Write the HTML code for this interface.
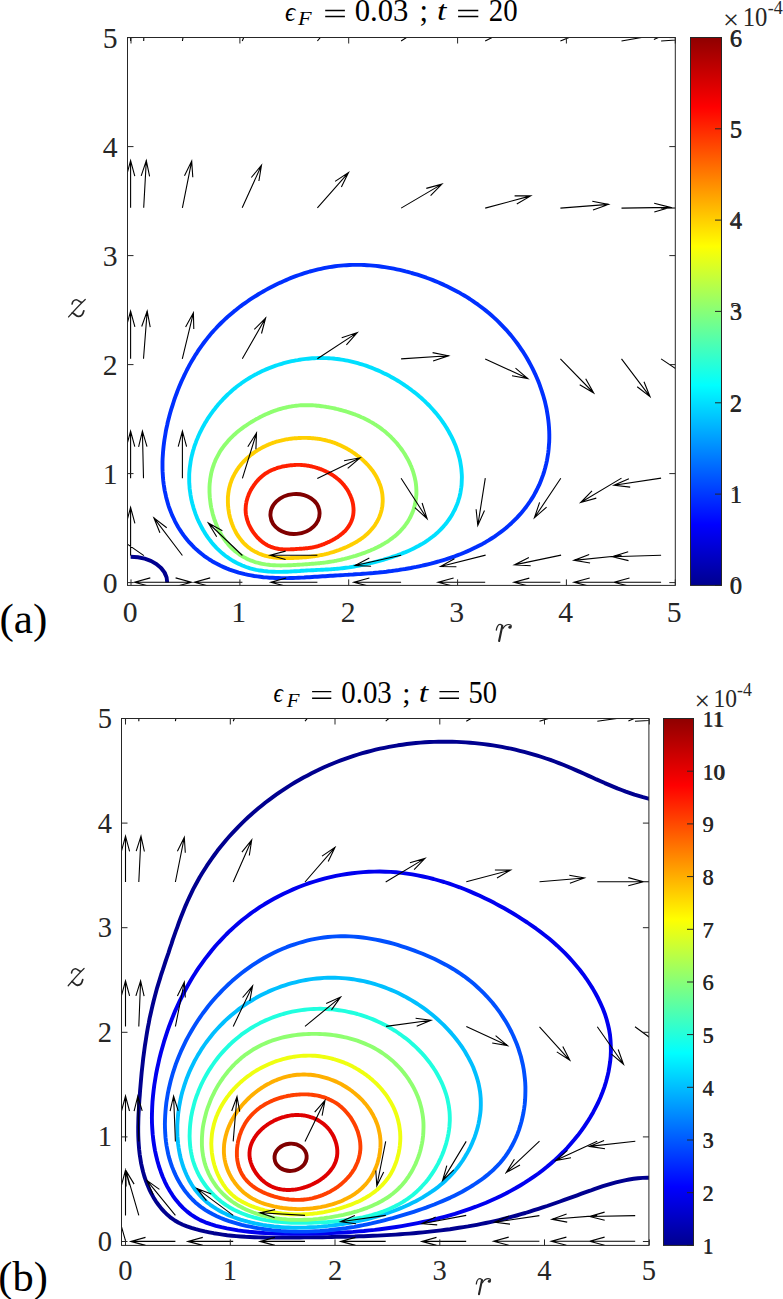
<!DOCTYPE html><html><head><meta charset="utf-8"><style>html,body{margin:0;padding:0;background:#fff;}svg{display:block;}text{font-family:"Liberation Serif",serif;fill:#262626;}</style></head><body>
<svg width="783" height="1299" viewBox="0 0 783 1299">
<defs></defs>
<clipPath id="ca"><rect x="127.5" y="37.5" width="547.8" height="547.9"/></clipPath>
<g clip-path="url(#ca)">
<path d="M130.6,556.7C150.8,556.7 167.2,567.9 167.2,582.5" fill="none" stroke="rgb(0,0,143)" stroke-width="3.9" stroke-linejoin="round" stroke-linecap="butt"/>
<path d="M165.9,430.9 166.5,428.0 167.2,425.0 167.8,422.0 168.6,419.1 169.3,416.2 170.1,413.3 170.9,410.4 171.8,407.6 172.7,404.8 173.6,402.0 174.5,399.2 175.5,396.4 176.5,393.7 177.5,391.0 178.6,388.3 179.7,385.6 180.8,382.9 182.0,380.3 183.2,377.7 184.4,375.1 185.7,372.5 186.9,370.0 188.3,367.4 189.6,364.9 191.0,362.4 192.4,360.0 193.9,357.6 195.3,355.1 196.9,352.8 198.4,350.4 200.0,348.1 201.6,345.8 203.3,343.5 205.0,341.3 206.7,339.1 208.4,336.9 210.2,334.7 212.0,332.6 213.9,330.5 215.8,328.5 217.7,326.4 219.6,324.5 221.6,322.5 223.6,320.6 225.6,318.7 227.7,316.8 229.8,315.0 231.9,313.2 234.0,311.4 236.2,309.7 238.3,308.0 240.5,306.3 242.7,304.7 245.0,303.1 247.3,301.5 249.5,299.9 251.8,298.4 254.2,296.9 256.5,295.5 258.8,294.0 261.2,292.6 263.6,291.2 266.0,289.9 268.5,288.6 270.9,287.3 273.4,286.0 275.8,284.7 278.3,283.5 280.9,282.4 283.4,281.2 286.0,280.1 288.5,279.0 291.1,277.9 293.7,276.9 296.4,275.9 299.0,275.0 301.7,274.1 304.4,273.2 307.1,272.3 309.8,271.5 312.5,270.8 315.3,270.1 318.1,269.4 320.9,268.8 323.7,268.2 326.5,267.6 329.3,267.1 332.2,266.7 335.0,266.3 337.9,265.9 340.8,265.6 343.7,265.4 346.6,265.2 349.5,265.0 352.4,264.9 355.4,264.9 358.3,264.9 361.2,264.9 364.2,265.0 367.1,265.2 370.1,265.4 373.0,265.6 376.0,265.9 379.0,266.3 381.9,266.7 384.9,267.1 387.8,267.6 390.8,268.1 393.8,268.7 396.7,269.3 399.7,269.9 402.7,270.6 405.6,271.4 408.6,272.1 411.6,273.0 414.5,273.8 417.5,274.7 420.4,275.7 423.4,276.7 426.4,277.7 429.3,278.8 432.3,279.9 435.2,281.1 438.1,282.3 441.1,283.6 444.0,284.9 446.9,286.3 449.8,287.7 452.7,289.2 455.6,290.7 458.5,292.2 461.3,293.9 464.2,295.5 467.0,297.2 469.8,299.0 472.6,300.9 475.4,302.8 478.1,304.7 480.8,306.7 483.5,308.8 486.2,310.9 488.8,313.0 491.4,315.3 494.0,317.6 496.5,319.9 499.0,322.3 501.4,324.8 503.8,327.3 506.2,329.8 508.5,332.5 510.8,335.1 513.0,337.9 515.1,340.6 517.3,343.5 519.3,346.3 521.3,349.3 523.3,352.2 525.2,355.3 527.0,358.3 528.8,361.5 530.5,364.6 532.2,367.8 533.8,371.1 535.3,374.3 536.8,377.7 538.2,381.0 539.5,384.4 540.7,387.8 541.9,391.3 543.0,394.8 544.0,398.3 545.0,401.8 545.8,405.4 546.6,409.0 547.2,412.6 547.8,416.3 548.3,419.9 548.7,423.6 549.0,427.3 549.2,430.9 549.3,434.6 549.3,438.3 549.2,442.0 548.9,445.7 548.6,449.4 548.2,453.0 547.6,456.7 547.0,460.3 546.2,463.9 545.3,467.5 544.3,471.1 543.2,474.6 541.9,478.1 540.6,481.5 539.2,484.9 537.6,488.2 535.9,491.5 534.2,494.7 532.3,497.9 530.3,501.0 528.2,504.0 526.1,507.0 523.8,509.9 521.5,512.7 519.1,515.4 516.6,518.1 514.0,520.7 511.4,523.2 508.7,525.6 506.0,528.0 503.2,530.2 500.3,532.4 497.4,534.5 494.5,536.6 491.5,538.5 488.5,540.4 485.5,542.2 482.5,543.9 479.4,545.5 476.3,547.1 473.2,548.6 470.2,550.0 467.1,551.4 464.0,552.7 460.9,554.0 457.8,555.1 454.8,556.3 451.7,557.4 448.7,558.4 445.7,559.4 442.6,560.3 439.7,561.2 436.7,562.0 433.7,562.8 430.8,563.6 427.9,564.3 425.0,565.0 422.1,565.7 419.2,566.3 416.4,566.9 413.6,567.4 410.8,568.0 408.0,568.5 405.2,569.0 402.5,569.4 399.7,569.8 397.0,570.3 394.3,570.6 391.7,571.0 389.0,571.3 386.3,571.7 383.7,572.0 381.1,572.2 378.5,572.5 375.9,572.7 373.3,573.0 370.7,573.2 368.2,573.4 365.6,573.6 363.1,573.8 360.6,574.0 358.0,574.1 355.5,574.3 353.0,574.5 350.5,574.6 348.0,574.8 345.4,574.9 342.9,575.1 340.4,575.2 337.9,575.4 335.4,575.5 332.8,575.7 330.3,575.8 327.8,576.0 325.2,576.2 322.6,576.3 320.0,576.5 317.4,576.7 314.8,576.8 312.1,577.0 309.5,577.2 306.8,577.3 304.1,577.5 301.3,577.6 298.6,577.7 295.8,577.9 293.0,578.0 290.1,578.0 287.2,578.1 284.3,578.1 281.4,578.1 278.5,578.0 275.5,578.0 272.5,577.8 269.5,577.7 266.5,577.4 263.4,577.2 260.3,576.8 257.3,576.4 254.2,576.0 251.1,575.4 248.0,574.8 244.9,574.2 241.8,573.4 238.7,572.6 235.7,571.6 232.6,570.6 229.6,569.6 226.6,568.4 223.6,567.1 220.7,565.8 217.8,564.3 214.9,562.8 212.1,561.2 209.4,559.5 206.7,557.7 204.0,555.8 201.5,553.8 199.0,551.7 196.5,549.6 194.1,547.4 191.9,545.0 189.6,542.7 187.5,540.2 185.5,537.7 183.5,535.1 181.6,532.4 179.8,529.7 178.1,527.0 176.5,524.1 175.0,521.3 173.6,518.3 172.2,515.4 171.0,512.4 169.8,509.3 168.7,506.3 167.8,503.2 166.9,500.0 166.1,496.9 165.4,493.7 164.7,490.6 164.2,487.4 163.7,484.2 163.3,481.0 163.0,477.8 162.8,474.6 162.6,471.4 162.5,468.2 162.5,465.0 162.5,461.9 162.6,458.7 162.8,455.6 163.0,452.4 163.3,449.3 163.6,446.2 164.0,443.1 164.4,440.0 164.9,437.0 165.4,434.0Z" fill="none" stroke="rgb(0,48,255)" stroke-width="3.9" stroke-linejoin="round"/>
<path d="M189.2,477.2 189.2,474.9 189.3,472.7 189.5,470.5 189.7,468.3 190.0,466.1 190.3,463.9 190.6,461.7 191.0,459.5 191.4,457.4 191.9,455.2 192.5,453.1 193.0,450.9 193.7,448.8 194.3,446.7 195.0,444.7 195.8,442.6 196.5,440.5 197.4,438.5 198.2,436.5 199.1,434.5 200.0,432.5 201.0,430.6 202.0,428.6 203.0,426.7 204.1,424.8 205.1,422.9 206.3,421.1 207.4,419.2 208.6,417.4 209.8,415.6 211.0,413.9 212.3,412.1 213.5,410.4 214.9,408.7 216.2,407.0 217.5,405.4 218.9,403.8 220.3,402.2 221.8,400.6 223.2,399.0 224.7,397.5 226.2,396.0 227.7,394.5 229.3,393.1 230.8,391.7 232.4,390.3 234.0,388.9 235.7,387.6 237.3,386.3 239.0,385.0 240.7,383.8 242.4,382.5 244.1,381.3 245.9,380.2 247.6,379.1 249.4,378.0 251.2,376.9 253.0,375.9 254.8,374.8 256.7,373.9 258.5,372.9 260.4,372.0 262.3,371.1 264.2,370.2 266.1,369.4 268.0,368.6 269.9,367.8 271.8,367.1 273.8,366.4 275.7,365.7 277.7,365.0 279.7,364.4 281.7,363.8 283.6,363.2 285.6,362.7 287.6,362.2 289.7,361.7 291.7,361.2 293.7,360.8 295.7,360.4 297.8,360.1 299.8,359.7 301.8,359.4 303.9,359.1 306.0,358.9 308.0,358.7 310.1,358.5 312.2,358.3 314.2,358.2 316.3,358.1 318.4,358.0 320.5,358.0 322.5,358.0 324.6,358.1 326.7,358.1 328.8,358.2 330.9,358.4 333.0,358.5 335.1,358.8 337.1,359.0 339.2,359.3 341.3,359.6 343.4,359.9 345.4,360.3 347.5,360.7 349.6,361.1 351.6,361.6 353.7,362.1 355.7,362.6 357.8,363.2 359.8,363.8 361.9,364.4 363.9,365.0 365.9,365.7 367.9,366.4 369.9,367.2 371.9,367.9 373.9,368.7 375.9,369.6 377.9,370.4 379.9,371.3 381.9,372.2 383.8,373.2 385.8,374.1 387.7,375.1 389.7,376.1 391.6,377.2 393.6,378.3 395.5,379.4 397.4,380.5 399.3,381.7 401.2,382.9 403.1,384.1 404.9,385.4 406.8,386.6 408.7,388.0 410.5,389.3 412.3,390.7 414.2,392.1 416.0,393.5 417.8,395.0 419.5,396.5 421.3,398.0 423.0,399.6 424.7,401.2 426.4,402.9 428.1,404.5 429.8,406.2 431.4,408.0 433.0,409.8 434.6,411.6 436.2,413.4 437.7,415.3 439.2,417.2 440.7,419.2 442.1,421.1 443.5,423.2 444.9,425.2 446.2,427.3 447.5,429.4 448.7,431.5 449.9,433.7 451.1,435.9 452.2,438.2 453.3,440.4 454.3,442.7 455.3,445.1 456.2,447.4 457.0,449.8 457.8,452.2 458.5,454.6 459.2,457.1 459.8,459.5 460.3,462.0 460.7,464.5 461.1,467.0 461.4,469.5 461.6,472.1 461.8,474.6 461.9,477.2 461.8,479.7 461.7,482.2 461.6,484.8 461.3,487.3 460.9,489.8 460.5,492.3 460.0,494.8 459.4,497.3 458.6,499.7 457.9,502.1 457.0,504.5 456.0,506.8 455.0,509.2 453.8,511.4 452.6,513.7 451.3,515.9 450.0,518.0 448.5,520.1 447.0,522.2 445.4,524.2 443.8,526.1 442.1,528.0 440.3,529.8 438.5,531.6 436.7,533.3 434.8,534.9 432.8,536.5 430.8,538.0 428.8,539.5 426.8,540.9 424.7,542.3 422.6,543.6 420.5,544.8 418.4,546.0 416.3,547.1 414.1,548.2 412.0,549.3 409.9,550.2 407.7,551.2 405.6,552.1 403.5,552.9 401.4,553.8 399.3,554.5 397.2,555.3 395.2,556.0 393.1,556.7 391.1,557.4 389.1,558.0 387.1,558.6 385.2,559.2 383.2,559.8 381.3,560.3 379.4,560.8 377.5,561.3 375.6,561.8 373.7,562.3 371.9,562.8 370.1,563.2 368.3,563.6 366.5,564.1 364.7,564.5 362.9,564.8 361.2,565.2 359.4,565.6 357.7,565.9 356.0,566.2 354.2,566.5 352.5,566.8 350.8,567.1 349.1,567.4 347.4,567.6 345.8,567.8 344.1,568.0 342.4,568.2 340.8,568.4 339.1,568.6 337.5,568.7 335.8,568.9 334.2,569.0 332.5,569.1 330.9,569.3 329.3,569.4 327.6,569.5 326.0,569.5 324.4,569.6 322.8,569.7 321.2,569.8 319.5,569.9 317.9,569.9 316.3,570.0 314.7,570.1 313.1,570.2 311.4,570.3 309.8,570.4 308.1,570.4 306.5,570.5 304.8,570.6 303.2,570.7 301.5,570.8 299.8,571.0 298.0,571.1 296.3,571.2 294.6,571.3 292.8,571.4 291.0,571.5 289.2,571.6 287.4,571.7 285.6,571.8 283.7,571.8 281.8,571.9 279.9,571.9 278.0,571.9 276.1,571.9 274.2,571.8 272.2,571.8 270.2,571.6 268.2,571.5 266.2,571.3 264.2,571.1 262.2,570.8 260.2,570.5 258.2,570.2 256.2,569.8 254.1,569.3 252.1,568.8 250.1,568.3 248.1,567.6 246.1,567.0 244.2,566.2 242.2,565.5 240.3,564.6 238.3,563.7 236.4,562.8 234.6,561.8 232.7,560.7 230.9,559.6 229.1,558.4 227.4,557.2 225.6,556.0 224.0,554.6 222.3,553.3 220.7,551.9 219.1,550.4 217.5,548.9 216.0,547.4 214.6,545.8 213.1,544.2 211.7,542.5 210.4,540.8 209.1,539.1 207.8,537.3 206.5,535.5 205.3,533.7 204.2,531.8 203.1,530.0 202.0,528.0 201.0,526.1 200.0,524.2 199.0,522.2 198.1,520.2 197.2,518.2 196.4,516.1 195.6,514.1 194.9,512.0 194.2,509.9 193.5,507.8 192.9,505.6 192.3,503.5 191.8,501.4 191.3,499.2 190.9,497.0 190.5,494.8 190.2,492.6 189.9,490.4 189.6,488.2 189.5,486.0 189.3,483.8 189.2,481.6 189.2,479.4Z" fill="none" stroke="rgb(0,223,255)" stroke-width="3.9" stroke-linejoin="round"/>
<path d="M209.5,490.5 209.5,488.8 209.5,487.1 209.6,485.3 209.7,483.6 209.9,481.9 210.1,480.2 210.3,478.5 210.6,476.8 210.9,475.1 211.2,473.4 211.6,471.7 212.0,470.1 212.5,468.4 213.0,466.8 213.6,465.2 214.1,463.5 214.8,462.0 215.4,460.4 216.1,458.8 216.9,457.3 217.7,455.8 218.5,454.3 219.3,452.8 220.2,451.3 221.1,449.9 222.1,448.5 223.1,447.1 224.1,445.8 225.1,444.5 226.2,443.2 227.3,441.9 228.4,440.6 229.5,439.4 230.7,438.2 231.8,437.1 233.0,435.9 234.2,434.8 235.4,433.7 236.7,432.6 237.9,431.6 239.2,430.5 240.5,429.5 241.7,428.6 243.0,427.6 244.3,426.7 245.6,425.8 247.0,424.9 248.3,424.0 249.6,423.1 250.9,422.3 252.3,421.5 253.6,420.7 255.0,419.9 256.3,419.1 257.7,418.4 259.0,417.7 260.4,416.9 261.8,416.3 263.1,415.6 264.5,414.9 265.9,414.3 267.3,413.7 268.7,413.1 270.1,412.5 271.5,411.9 272.9,411.4 274.3,410.8 275.8,410.3 277.2,409.9 278.6,409.4 280.1,409.0 281.5,408.6 283.0,408.2 284.4,407.8 285.9,407.5 287.4,407.1 288.8,406.8 290.3,406.6 291.8,406.3 293.3,406.1 294.8,405.9 296.2,405.7 297.7,405.6 299.2,405.4 300.7,405.3 302.2,405.3 303.7,405.2 305.2,405.2 306.7,405.2 308.2,405.2 309.6,405.2 311.1,405.3 312.6,405.3 314.1,405.4 315.6,405.5 317.1,405.7 318.6,405.8 320.0,406.0 321.5,406.2 323.0,406.4 324.5,406.6 325.9,406.8 327.4,407.1 328.9,407.3 330.4,407.6 331.8,407.9 333.3,408.2 334.8,408.5 336.3,408.9 337.7,409.2 339.2,409.6 340.7,410.0 342.2,410.4 343.7,410.8 345.1,411.2 346.6,411.7 348.1,412.1 349.6,412.6 351.1,413.1 352.5,413.6 354.0,414.2 355.5,414.7 357.0,415.3 358.5,415.9 360.0,416.5 361.4,417.2 362.9,417.8 364.4,418.5 365.9,419.3 367.3,420.0 368.8,420.8 370.2,421.6 371.7,422.4 373.1,423.2 374.5,424.1 376.0,425.0 377.4,426.0 378.8,426.9 380.2,427.9 381.5,428.9 382.9,430.0 384.3,431.0 385.6,432.1 386.9,433.3 388.2,434.4 389.5,435.6 390.8,436.8 392.0,438.1 393.3,439.4 394.5,440.7 395.7,442.0 396.9,443.3 398.0,444.7 399.1,446.1 400.3,447.6 401.3,449.0 402.4,450.5 403.4,452.0 404.4,453.5 405.4,455.1 406.3,456.7 407.2,458.3 408.1,459.9 409.0,461.6 409.8,463.3 410.5,465.0 411.3,466.7 411.9,468.4 412.6,470.2 413.2,472.0 413.7,473.8 414.2,475.6 414.7,477.4 415.1,479.3 415.5,481.1 415.8,483.0 416.0,484.8 416.2,486.7 416.3,488.6 416.4,490.5 416.4,492.4 416.4,494.3 416.2,496.2 416.1,498.0 415.8,499.9 415.5,501.8 415.2,503.6 414.7,505.5 414.2,507.3 413.7,509.1 413.1,510.9 412.4,512.7 411.6,514.4 410.8,516.1 410.0,517.8 409.1,519.4 408.1,521.1 407.1,522.6 406.0,524.2 404.9,525.7 403.7,527.2 402.5,528.6 401.2,530.0 400.0,531.4 398.6,532.7 397.3,534.0 395.9,535.2 394.5,536.4 393.0,537.5 391.6,538.7 390.1,539.7 388.6,540.8 387.1,541.8 385.6,542.7 384.1,543.6 382.5,544.5 381.0,545.4 379.4,546.2 377.9,547.0 376.4,547.7 374.8,548.5 373.3,549.2 371.8,549.8 370.3,550.5 368.7,551.1 367.2,551.7 365.7,552.3 364.3,552.8 362.8,553.3 361.3,553.9 359.9,554.4 358.4,554.8 357.0,555.3 355.6,555.8 354.2,556.2 352.8,556.6 351.4,557.0 350.0,557.4 348.6,557.8 347.2,558.2 345.9,558.5 344.5,558.9 343.2,559.2 341.8,559.5 340.5,559.8 339.2,560.1 337.8,560.4 336.5,560.7 335.2,560.9 333.9,561.2 332.6,561.4 331.3,561.6 330.0,561.8 328.7,562.0 327.4,562.2 326.1,562.4 324.8,562.6 323.5,562.7 322.2,562.9 320.9,563.0 319.7,563.2 318.4,563.3 317.1,563.4 315.8,563.5 314.6,563.6 313.3,563.7 312.0,563.8 310.7,563.9 309.4,564.0 308.2,564.1 306.9,564.2 305.6,564.3 304.3,564.4 303.0,564.5 301.7,564.6 300.4,564.6 299.0,564.7 297.7,564.8 296.4,564.9 295.0,565.0 293.7,565.0 292.3,565.1 290.9,565.2 289.5,565.2 288.1,565.3 286.7,565.4 285.3,565.4 283.8,565.4 282.4,565.4 280.9,565.5 279.4,565.4 277.9,565.4 276.4,565.4 274.8,565.3 273.3,565.2 271.8,565.1 270.2,565.0 268.6,564.8 267.1,564.6 265.5,564.4 263.9,564.1 262.3,563.8 260.8,563.5 259.2,563.1 257.6,562.7 256.0,562.3 254.4,561.8 252.9,561.2 251.3,560.7 249.8,560.1 248.3,559.4 246.8,558.7 245.3,557.9 243.8,557.1 242.4,556.3 240.9,555.4 239.5,554.5 238.2,553.5 236.8,552.5 235.5,551.5 234.2,550.4 233.0,549.3 231.7,548.1 230.5,546.9 229.4,545.7 228.3,544.4 227.2,543.1 226.1,541.8 225.1,540.4 224.1,539.0 223.2,537.6 222.2,536.2 221.3,534.7 220.5,533.3 219.7,531.8 218.9,530.2 218.1,528.7 217.4,527.2 216.7,525.6 216.1,524.0 215.5,522.4 214.9,520.8 214.3,519.2 213.8,517.6 213.3,515.9 212.8,514.3 212.4,512.6 212.0,510.9 211.6,509.3 211.2,507.6 210.9,505.9 210.6,504.2 210.4,502.5 210.2,500.8 210.0,499.1 209.8,497.4 209.7,495.7 209.6,493.9 209.5,492.2Z" fill="none" stroke="rgb(143,255,112)" stroke-width="3.9" stroke-linejoin="round"/>
<path d="M227.9,497.5 228.0,496.1 228.2,494.8 228.3,493.4 228.5,492.1 228.7,490.8 228.9,489.5 229.2,488.2 229.5,486.9 229.9,485.6 230.2,484.3 230.6,483.0 231.1,481.7 231.5,480.5 232.0,479.3 232.5,478.1 233.1,476.8 233.7,475.7 234.3,474.5 234.9,473.3 235.6,472.2 236.2,471.1 236.9,470.0 237.7,468.9 238.4,467.8 239.2,466.8 240.0,465.8 240.8,464.8 241.6,463.8 242.5,462.8 243.3,461.9 244.2,461.0 245.1,460.1 246.0,459.2 246.9,458.3 247.9,457.5 248.8,456.7 249.8,455.9 250.7,455.1 251.7,454.3 252.7,453.6 253.7,452.9 254.7,452.2 255.7,451.5 256.7,450.8 257.7,450.2 258.7,449.6 259.7,449.0 260.8,448.4 261.8,447.8 262.8,447.3 263.9,446.7 264.9,446.2 266.0,445.7 267.0,445.2 268.1,444.8 269.1,444.3 270.2,443.9 271.2,443.5 272.3,443.1 273.4,442.7 274.4,442.4 275.5,442.0 276.5,441.7 277.6,441.4 278.7,441.1 279.7,440.8 280.8,440.6 281.9,440.3 282.9,440.1 284.0,439.9 285.0,439.6 286.1,439.4 287.2,439.3 288.2,439.1 289.3,438.9 290.3,438.8 291.4,438.7 292.4,438.5 293.5,438.4 294.5,438.3 295.6,438.2 296.6,438.2 297.7,438.1 298.7,438.0 299.7,438.0 300.8,438.0 301.8,437.9 302.9,437.9 303.9,437.9 304.9,437.9 306.0,437.9 307.0,437.9 308.1,438.0 309.1,438.0 310.1,438.0 311.2,438.1 312.2,438.2 313.3,438.3 314.3,438.4 315.3,438.5 316.4,438.6 317.4,438.7 318.5,438.9 319.5,439.0 320.6,439.2 321.6,439.4 322.6,439.6 323.7,439.8 324.7,440.0 325.8,440.3 326.8,440.5 327.8,440.8 328.9,441.1 329.9,441.4 330.9,441.7 332.0,442.0 333.0,442.4 334.0,442.7 335.1,443.1 336.1,443.5 337.1,443.9 338.1,444.4 339.1,444.8 340.2,445.2 341.2,445.7 342.2,446.2 343.2,446.7 344.2,447.2 345.2,447.7 346.2,448.3 347.2,448.8 348.2,449.4 349.2,450.0 350.2,450.6 351.2,451.2 352.2,451.9 353.1,452.5 354.1,453.2 355.1,453.9 356.1,454.6 357.0,455.3 358.0,456.0 359.0,456.8 359.9,457.5 360.8,458.3 361.8,459.1 362.7,459.9 363.6,460.8 364.5,461.6 365.4,462.5 366.3,463.4 367.2,464.3 368.1,465.3 368.9,466.2 369.8,467.2 370.6,468.2 371.4,469.2 372.2,470.3 373.0,471.3 373.7,472.4 374.4,473.5 375.2,474.6 375.8,475.8 376.5,476.9 377.1,478.1 377.7,479.3 378.3,480.5 378.8,481.7 379.3,483.0 379.8,484.2 380.3,485.5 380.7,486.8 381.1,488.1 381.4,489.4 381.7,490.7 382.0,492.1 382.2,493.4 382.4,494.7 382.5,496.1 382.6,497.5 382.7,498.8 382.7,500.2 382.7,501.5 382.6,502.9 382.5,504.2 382.4,505.6 382.2,506.9 381.9,508.3 381.7,509.6 381.4,510.9 381.0,512.2 380.6,513.5 380.2,514.8 379.7,516.1 379.2,517.3 378.6,518.6 378.0,519.8 377.4,521.0 376.7,522.2 376.0,523.3 375.3,524.5 374.6,525.6 373.8,526.7 372.9,527.7 372.1,528.8 371.2,529.8 370.3,530.8 369.4,531.7 368.5,532.7 367.5,533.6 366.6,534.5 365.6,535.3 364.6,536.2 363.6,537.0 362.5,537.8 361.5,538.5 360.4,539.3 359.4,540.0 358.3,540.7 357.3,541.3 356.2,542.0 355.1,542.6 354.0,543.2 353.0,543.8 351.9,544.4 350.8,544.9 349.7,545.5 348.6,546.0 347.6,546.5 346.5,547.0 345.4,547.4 344.4,547.9 343.3,548.3 342.2,548.8 341.2,549.2 340.1,549.6 339.1,550.0 338.0,550.4 337.0,550.7 335.9,551.1 334.9,551.4 333.8,551.8 332.8,552.1 331.8,552.4 330.7,552.7 329.7,553.0 328.7,553.3 327.6,553.6 326.6,553.9 325.6,554.1 324.5,554.4 323.5,554.6 322.5,554.8 321.5,555.0 320.4,555.2 319.4,555.4 318.4,555.6 317.3,555.8 316.3,555.9 315.3,556.1 314.3,556.2 313.2,556.4 312.2,556.5 311.2,556.6 310.1,556.8 309.1,556.9 308.1,557.0 307.0,557.1 306.0,557.2 304.9,557.2 303.9,557.3 302.9,557.4 301.8,557.5 300.7,557.6 299.7,557.6 298.6,557.7 297.5,557.7 296.5,557.8 295.4,557.9 294.3,557.9 293.2,558.0 292.1,558.0 291.0,558.0 289.8,558.1 288.7,558.1 287.6,558.1 286.4,558.1 285.2,558.1 284.1,558.1 282.9,558.1 281.7,558.0 280.5,558.0 279.3,557.9 278.1,557.9 276.8,557.8 275.6,557.6 274.4,557.5 273.1,557.3 271.9,557.1 270.6,556.9 269.3,556.7 268.1,556.4 266.8,556.1 265.6,555.8 264.3,555.5 263.1,555.1 261.8,554.6 260.6,554.2 259.4,553.7 258.2,553.2 257.0,552.6 255.8,552.0 254.6,551.4 253.5,550.8 252.3,550.1 251.2,549.3 250.1,548.6 249.1,547.8 248.0,547.0 247.0,546.1 246.0,545.2 245.0,544.3 244.0,543.3 243.1,542.4 242.2,541.4 241.4,540.3 240.5,539.3 239.7,538.2 238.9,537.1 238.1,536.0 237.4,534.9 236.7,533.7 236.0,532.6 235.4,531.4 234.8,530.2 234.2,529.0 233.6,527.7 233.1,526.5 232.6,525.2 232.1,524.0 231.6,522.7 231.2,521.4 230.8,520.1 230.4,518.8 230.0,517.5 229.7,516.2 229.4,514.9 229.1,513.6 228.9,512.2 228.7,510.9 228.5,509.6 228.3,508.2 228.2,506.9 228.0,505.5 228.0,504.2 227.9,502.8 227.9,501.5 227.9,500.1 227.9,498.8Z" fill="none" stroke="rgb(255,207,0)" stroke-width="3.9" stroke-linejoin="round"/>
<path d="M245.7,508.3 245.7,507.4 245.8,506.5 245.8,505.5 246.0,504.6 246.1,503.7 246.3,502.8 246.4,501.9 246.6,501.0 246.9,500.1 247.1,499.2 247.4,498.3 247.6,497.4 247.9,496.6 248.3,495.7 248.6,494.8 248.9,494.0 249.3,493.2 249.7,492.3 250.1,491.5 250.5,490.7 250.9,489.9 251.4,489.1 251.8,488.4 252.3,487.6 252.8,486.8 253.3,486.1 253.8,485.3 254.3,484.6 254.8,483.9 255.4,483.2 255.9,482.5 256.5,481.8 257.0,481.2 257.6,480.5 258.2,479.9 258.8,479.2 259.4,478.6 260.1,478.0 260.7,477.4 261.4,476.9 262.0,476.3 262.7,475.7 263.4,475.2 264.0,474.7 264.7,474.2 265.4,473.7 266.1,473.2 266.9,472.8 267.6,472.3 268.3,471.9 269.0,471.5 269.8,471.1 270.5,470.7 271.3,470.4 272.0,470.0 272.8,469.7 273.6,469.4 274.3,469.1 275.1,468.8 275.9,468.5 276.6,468.2 277.4,468.0 278.2,467.7 279.0,467.5 279.7,467.3 280.5,467.1 281.3,466.9 282.0,466.7 282.8,466.5 283.6,466.4 284.4,466.2 285.1,466.1 285.9,466.0 286.7,465.8 287.4,465.7 288.2,465.6 289.0,465.5 289.7,465.4 290.5,465.3 291.3,465.2 292.0,465.2 292.8,465.1 293.5,465.1 294.3,465.0 295.1,465.0 295.8,464.9 296.6,464.9 297.3,464.9 298.1,464.9 298.9,464.9 299.6,464.9 300.4,464.9 301.1,465.0 301.9,465.0 302.6,465.1 303.4,465.1 304.1,465.2 304.9,465.3 305.7,465.4 306.4,465.5 307.2,465.6 307.9,465.7 308.7,465.8 309.4,466.0 310.2,466.1 310.9,466.3 311.7,466.4 312.4,466.6 313.2,466.8 313.9,467.0 314.6,467.2 315.4,467.4 316.1,467.6 316.9,467.8 317.6,468.1 318.4,468.3 319.1,468.6 319.8,468.9 320.6,469.1 321.3,469.4 322.1,469.7 322.8,470.0 323.5,470.3 324.3,470.6 325.0,471.0 325.7,471.3 326.5,471.7 327.2,472.0 327.9,472.4 328.7,472.8 329.4,473.2 330.1,473.6 330.8,474.0 331.6,474.5 332.3,474.9 333.0,475.4 333.7,475.8 334.4,476.3 335.1,476.8 335.8,477.3 336.5,477.9 337.1,478.4 337.8,479.0 338.5,479.5 339.1,480.1 339.8,480.7 340.4,481.3 341.1,481.9 341.7,482.6 342.3,483.2 342.9,483.9 343.5,484.6 344.1,485.3 344.6,486.0 345.2,486.7 345.7,487.5 346.2,488.2 346.8,489.0 347.3,489.7 347.7,490.5 348.2,491.3 348.7,492.1 349.1,493.0 349.5,493.8 349.9,494.6 350.3,495.5 350.7,496.4 351.0,497.2 351.4,498.1 351.7,499.0 352.0,499.9 352.2,500.8 352.5,501.7 352.7,502.7 352.9,503.6 353.1,504.5 353.2,505.5 353.3,506.4 353.4,507.4 353.5,508.3 353.5,509.3 353.6,510.2 353.5,511.2 353.5,512.1 353.4,513.1 353.3,514.0 353.2,515.0 353.0,515.9 352.8,516.9 352.6,517.8 352.3,518.7 352.0,519.6 351.7,520.5 351.3,521.4 350.9,522.3 350.5,523.1 350.1,524.0 349.6,524.8 349.1,525.6 348.6,526.4 348.1,527.2 347.5,528.0 346.9,528.7 346.3,529.5 345.7,530.2 345.1,530.9 344.4,531.5 343.7,532.2 343.1,532.8 342.4,533.4 341.6,534.0 340.9,534.6 340.2,535.2 339.5,535.7 338.7,536.2 338.0,536.8 337.3,537.3 336.5,537.7 335.8,538.2 335.0,538.7 334.3,539.1 333.5,539.5 332.8,539.9 332.0,540.3 331.3,540.7 330.5,541.1 329.8,541.5 329.0,541.8 328.3,542.2 327.5,542.5 326.8,542.8 326.1,543.2 325.3,543.5 324.6,543.8 323.9,544.1 323.2,544.4 322.4,544.6 321.7,544.9 321.0,545.1 320.3,545.4 319.5,545.6 318.8,545.9 318.1,546.1 317.4,546.3 316.6,546.5 315.9,546.7 315.2,546.8 314.5,547.0 313.8,547.2 313.0,547.3 312.3,547.5 311.6,547.6 310.9,547.7 310.2,547.8 309.5,547.9 308.8,548.0 308.0,548.1 307.3,548.2 306.6,548.3 305.9,548.3 305.2,548.4 304.5,548.5 303.8,548.5 303.1,548.6 302.4,548.6 301.7,548.7 301.0,548.7 300.3,548.8 299.6,548.8 298.9,548.9 298.1,548.9 297.4,548.9 296.7,549.0 296.0,549.0 295.3,549.1 294.6,549.1 293.8,549.2 293.1,549.2 292.4,549.2 291.6,549.3 290.9,549.3 290.1,549.4 289.4,549.4 288.6,549.4 287.8,549.4 287.1,549.4 286.3,549.4 285.5,549.4 284.7,549.4 283.9,549.4 283.1,549.4 282.3,549.3 281.5,549.3 280.7,549.2 279.8,549.1 279.0,549.0 278.2,548.8 277.4,548.7 276.6,548.5 275.7,548.4 274.9,548.2 274.1,547.9 273.3,547.7 272.5,547.4 271.7,547.1 270.9,546.8 270.1,546.5 269.3,546.1 268.5,545.8 267.7,545.4 267.0,545.0 266.2,544.5 265.5,544.1 264.8,543.6 264.0,543.1 263.3,542.6 262.6,542.1 261.9,541.6 261.2,541.0 260.6,540.4 259.9,539.9 259.3,539.2 258.6,538.6 258.0,538.0 257.4,537.4 256.8,536.7 256.2,536.0 255.6,535.3 255.1,534.6 254.5,533.9 254.0,533.2 253.4,532.5 252.9,531.7 252.4,531.0 251.9,530.2 251.4,529.4 251.0,528.6 250.5,527.8 250.1,527.0 249.7,526.2 249.3,525.4 248.9,524.5 248.5,523.7 248.2,522.8 247.9,522.0 247.6,521.1 247.3,520.2 247.0,519.3 246.8,518.4 246.6,517.5 246.4,516.6 246.2,515.7 246.0,514.8 245.9,513.9 245.8,513.0 245.7,512.0 245.7,511.1 245.6,510.2 245.6,509.2Z" fill="none" stroke="rgb(255,32,0)" stroke-width="3.9" stroke-linejoin="round"/>
<ellipse cx="295" cy="514" rx="24.6" ry="20" transform="rotate(-5 295 514)" fill="none" stroke="rgb(128,0,0)" stroke-width="3.9"/>
<path d="M130.6,207.8L130.6,160.6M134.8,176.2L130.6,160.6L126.4,176.2M143.7,207.8L146.3,160.6M149.6,176.4L146.3,160.6L141.2,175.9M182.4,207.8L191.7,161.1M192.8,177.3L191.7,161.1L184.5,175.7M242.2,207.8L261.5,165.2M258.9,181.0L261.5,165.2L251.3,177.5M317.4,207.8L348.5,172.6M341.4,187.0L348.5,172.6L335.1,181.4M401.1,208.1L441.9,184.1M430.6,195.7L441.9,184.1L426.3,188.4M485.2,208.1L530.7,195.9M516.8,204.0L530.7,195.9L514.6,195.9M560.4,208.1L608.5,204.4M593.0,209.9L608.5,204.4L592.3,201.3M621.5,208.1L670.4,207.4M654.3,212.0L670.4,207.4L654.2,203.3M661.1,208.1L710.0,208.0M693.9,212.4L710.0,208.0L693.9,203.7M130.6,358.8L130.6,311.1M134.9,326.8L130.6,311.1L126.3,326.8M143.5,358.8L147.2,311.1M150.2,327.2L147.2,311.1L141.7,326.5M182.3,358.8L193.4,312.8M193.8,329.0L193.4,312.8L185.6,327.0M242.3,358.8L265.6,318.0M261.5,333.5L265.6,318.0L254.3,329.4M317.4,358.8L357.2,332.6M346.4,344.8L357.2,332.6L341.7,337.7M401.1,358.9L448.5,355.8M433.1,361.0L448.5,355.8L432.6,352.6M485.2,358.9L527.8,378.5M512.0,375.8L527.8,378.5L515.5,368.2M560.4,358.9L593.7,393.0M579.7,384.7L593.7,393.0L585.7,378.8M621.5,358.9L650.0,396.7M637.2,386.8L650.0,396.7L644.0,381.7M661.1,358.9L700.0,385.0M684.8,379.9L700.0,385.0L689.5,372.9M130.6,478.3L130.6,431.1M134.8,446.7L130.6,431.1L126.4,446.7M143.5,478.3L142.4,431.1M147.0,446.6L142.4,431.1L138.6,446.8M182.4,478.3L182.4,431.1M186.6,446.7L182.4,431.1L178.2,446.7M242.4,478.3L256.5,433.0M255.9,449.2L256.5,433.0L247.8,446.7M317.3,478.4L360.0,457.8M347.7,468.4L360.0,457.8L344.1,460.8M401.1,478.2L427.1,518.7M414.9,507.7L427.1,518.7L422.1,503.0M485.3,478.2L477.8,525.5M476.1,509.2L477.8,525.5L484.5,510.6M560.8,478.2L534.4,517.8M539.6,502.4L534.4,517.8L546.6,507.1M621.5,478.1L580.7,502.5M592.0,490.8L580.7,502.5L596.3,498.1M661.1,478.1L614.0,485.2M628.9,478.7L614.0,485.2L630.2,487.1M130.6,555.5L130.6,507.4M134.9,523.3L130.6,507.4L126.3,523.3M143.9,555.6L105.0,528.5M120.3,534.0L105.0,528.5L115.4,540.9M182.4,555.5L153.9,517.8M166.7,527.7L153.9,517.8L159.9,532.8M242.4,555.5L208.3,523.0M222.4,530.7L208.3,523.0L216.7,536.8M317.4,555.3L270.0,555.3M285.6,551.1L270.0,555.3L285.6,559.5M401.1,555.3L355.0,565.5M369.3,558.0L355.0,565.5L371.1,566.2M485.6,555.1L440.5,566.5M454.4,558.7L440.5,566.5L456.4,566.8M561.1,555.1L514.4,564.9M528.9,557.5L514.4,564.9L530.7,565.8M621.5,555.5L574.0,560.4M589.2,554.6L574.0,560.4L590.1,563.0M661.1,555.2L612.2,556.7M628.2,551.8L612.2,556.7L628.5,560.6M143.5,582.2L191.4,582.2M175.6,586.5L191.4,582.2L175.6,577.9M182.4,582.2L134.5,582.2M150.3,577.9L134.5,582.2L150.3,586.5M242.4,582.2L194.4,582.2M210.2,577.9L194.4,582.2L210.2,586.5M317.4,582.2L270.8,582.2M286.2,578.0L270.8,582.2L286.2,586.4M401.1,582.2L353.8,582.2M369.4,578.0L353.8,582.2L369.4,586.4M485.2,582.2L438.1,582.2M453.6,578.0L438.1,582.2L453.6,586.4M560.4,582.2L514.0,582.2M529.3,578.1L514.0,582.2L529.3,586.3M621.5,582.2L574.0,582.2M589.7,578.0L574.0,582.2L589.7,586.4M661.1,582.2L614.0,582.2M629.5,578.0L614.0,582.2L629.5,586.4M130.6,41.0L130.6,-7.0M134.9,8.8L130.6,-7.0L126.3,8.8M143.7,41.0L145.4,-7.0M149.1,9.0L145.4,-7.0L140.5,8.7M182.4,41.0L190.7,-6.3M192.2,10.1L190.7,-6.3L183.8,8.6M242.2,41.0L261.7,-2.9M259.2,13.4L261.7,-2.9L251.4,9.9M317.4,41.0L348.3,4.2M341.3,19.1L348.3,4.2L334.8,13.6M401.1,41.0L441.4,14.9M430.4,27.1L441.4,14.9L425.7,19.9M485.2,41.0L528.0,19.2M515.8,30.2L528.0,19.2L511.9,22.6M560.4,41.0L604.9,23.0M591.8,32.9L604.9,23.0L588.6,25.0M621.5,41.0L668.8,32.7M653.9,39.6L668.8,32.7L652.4,31.2M661.1,41.0L709.0,37.7M693.5,43.0L709.0,37.7L692.9,34.5" fill="none" stroke="#000" stroke-width="1.1" stroke-linejoin="miter"/>
</g>
<path d="M131.0,585.4V579.4M131.0,37.5V43.5M239.9,585.4V579.4M239.9,37.5V43.5M348.7,585.4V579.4M348.7,37.5V43.5M457.6,585.4V579.4M457.6,37.5V43.5M566.4,585.4V579.4M566.4,37.5V43.5M675.3,585.4V579.4M675.3,37.5V43.5M127.5,582.6H133.5M675.3,582.6H669.3M127.5,473.6H133.5M675.3,473.6H669.3M127.5,364.6H133.5M675.3,364.6H669.3M127.5,255.6H133.5M675.3,255.6H669.3M127.5,146.6H133.5M675.3,146.6H669.3M127.5,37.6H133.5M675.3,37.6H669.3" stroke="#262626" stroke-width="1" fill="none"/>
<rect x="127.5" y="37.5" width="547.8" height="547.9" fill="none" stroke="#262626" stroke-width="1"/>
<clipPath id="cb"><rect x="121.5" y="718.5" width="527.4" height="526.9"/></clipPath>
<g clip-path="url(#cb)">
<path d="M651.9,799.3 647.5,798.3 643.0,797.2 638.7,795.9 634.4,794.6 630.1,793.1 625.8,791.6 621.6,790.0 617.3,788.4 613.1,786.6 609.0,784.9 604.8,783.1 600.7,781.2 596.5,779.4 592.4,777.5 588.2,775.6 584.1,773.8 579.9,771.9 575.8,770.1 571.6,768.3 567.4,766.5 563.2,764.8 558.9,763.1 554.7,761.5 550.4,759.9 546.1,758.5 541.7,757.0 537.4,755.7 533.0,754.3 528.6,753.1 524.2,751.9 519.8,750.8 515.3,749.7 510.9,748.7 506.4,747.8 501.9,746.9 497.5,746.1 493.0,745.4 488.5,744.7 483.9,744.1 479.4,743.6 474.9,743.1 470.3,742.7 465.8,742.4 461.3,742.1 456.7,741.9 452.2,741.7 447.6,741.7 443.1,741.7 438.5,741.7 434.0,741.9 429.5,742.0 424.9,742.3 420.4,742.6 415.9,743.0 411.4,743.5 406.8,744.0 402.3,744.7 397.9,745.3 393.4,746.1 388.9,746.9 384.4,747.8 380.0,748.7 375.6,749.7 371.2,750.8 366.8,752.0 362.4,753.2 358.0,754.5 353.7,755.9 349.4,757.3 345.1,758.8 340.8,760.4 336.6,762.0 332.3,763.7 328.1,765.5 324.0,767.3 319.8,769.3 315.7,771.2 311.6,773.3 307.6,775.4 303.5,777.5 299.6,779.7 295.6,782.0 291.7,784.4 287.8,786.8 284.0,789.3 280.2,791.8 276.5,794.4 272.8,797.1 269.1,799.8 265.5,802.5 261.9,805.4 258.4,808.3 254.9,811.2 251.5,814.2 248.1,817.3 244.8,820.4 241.5,823.6 238.3,826.8 235.2,830.1 232.1,833.4 229.0,836.8 226.0,840.2 223.1,843.7 220.2,847.2 217.4,850.8 214.7,854.5 212.1,858.2 209.5,861.9 206.9,865.7 204.5,869.5 202.1,873.3 199.7,877.2 197.5,881.2 195.3,885.2 193.2,889.2 191.2,893.3 189.3,897.3 187.4,901.5 185.6,905.6 183.9,909.8 182.2,914.0 180.5,918.3 178.9,922.5 177.4,926.8 175.8,931.1 174.3,935.4 172.8,939.7 171.4,944.1 169.9,948.4 168.5,952.8 167.0,957.1 165.5,961.5 164.1,965.8 162.7,970.2 161.2,974.5 159.9,978.9 158.5,983.3 157.2,987.6 156.0,992.0 154.8,996.4 153.7,1000.8 152.6,1005.2 151.6,1009.6 150.6,1014.0 149.6,1018.4 148.8,1022.9 147.9,1027.3 147.1,1031.8 146.4,1036.2 145.7,1040.7 145.0,1045.1 144.4,1049.6 143.8,1054.1 143.2,1058.6 142.7,1063.1 142.2,1067.6 141.7,1072.1 141.3,1076.7 140.9,1081.2 140.5,1085.8 140.1,1090.3 139.8,1094.9 139.4,1099.5 139.1,1104.1 138.9,1108.7 138.6,1113.3 138.4,1117.9 138.3,1122.5 138.2,1127.1 138.2,1131.7 138.3,1136.3 138.5,1140.9 138.8,1145.4 139.2,1150.0 139.7,1154.5 140.4,1158.9 141.1,1163.4 142.1,1167.8 143.2,1172.2 144.4,1176.5 145.9,1180.8 147.5,1185.1 149.3,1189.3 151.3,1193.4 153.5,1197.4 155.9,1201.3 158.6,1205.0 161.4,1208.6 164.4,1211.9 167.7,1215.1 171.1,1217.9 174.8,1220.5 178.7,1222.8 182.8,1224.7 187.0,1226.4 191.4,1227.9 195.8,1229.2 200.3,1230.3 204.8,1231.4 209.3,1232.3 213.7,1233.2 218.2,1233.9 222.7,1234.6 227.2,1235.2 231.8,1235.7 236.3,1236.1 240.8,1236.5 245.3,1236.8 249.8,1237.0 254.4,1237.2 258.9,1237.4 263.5,1237.5 268.0,1237.6 272.6,1237.6 277.1,1237.6 281.7,1237.6 286.2,1237.6 290.8,1237.5 295.3,1237.5 299.9,1237.5 304.5,1237.4 309.0,1237.4 313.6,1237.3 318.1,1237.2 322.7,1237.2 327.3,1237.1 331.8,1237.0 336.4,1236.9 341.0,1236.8 345.5,1236.7 350.1,1236.6 354.7,1236.5 359.2,1236.3 363.8,1236.2 368.4,1236.0 372.9,1235.8 377.5,1235.6 382.0,1235.4 386.6,1235.1 391.1,1234.9 395.7,1234.6 400.2,1234.3 404.8,1233.9 409.3,1233.6 413.8,1233.2 418.4,1232.8 422.9,1232.4 427.4,1231.9 431.9,1231.4 436.5,1230.9 441.0,1230.4 445.5,1229.8 450.0,1229.2 454.4,1228.5 458.9,1227.8 463.4,1227.1 467.9,1226.4 472.3,1225.6 476.8,1224.8 481.3,1223.9 485.7,1223.0 490.1,1222.1 494.6,1221.1 499.0,1220.1 503.4,1219.0 507.8,1217.9 512.2,1216.7 516.6,1215.5 521.0,1214.2 525.3,1213.0 529.7,1211.6 534.0,1210.2 538.4,1208.8 542.7,1207.4 547.1,1206.0 551.4,1204.5 555.7,1203.0 560.0,1201.5 564.3,1199.9 568.6,1198.4 572.9,1196.8 577.2,1195.3 581.5,1193.7 585.8,1192.2 590.1,1190.7 594.3,1189.1 598.6,1187.7 602.9,1186.2 607.2,1184.9 611.5,1183.6 615.9,1182.4 620.3,1181.3 624.7,1180.3 629.1,1179.5 633.6,1178.8 638.1,1178.2 642.7,1177.9 647.4,1177.7 652.1,1177.7" fill="none" stroke="rgb(0,0,143)" stroke-width="3.9" stroke-linejoin="round"/>
<path d="M379.7,871.5 385.2,871.7 390.6,871.9 396.0,872.3 401.5,872.9 406.9,873.6 412.3,874.4 417.6,875.4 423.0,876.5 428.3,877.7 433.6,879.0 438.8,880.5 444.1,882.0 449.3,883.7 454.5,885.5 459.6,887.3 464.7,889.3 469.8,891.4 474.8,893.6 479.8,895.8 484.8,898.2 489.7,900.6 494.6,903.1 499.4,905.7 504.2,908.3 508.9,911.0 513.6,913.8 518.2,916.6 522.8,919.6 527.3,922.5 531.8,925.6 536.2,928.7 540.5,931.9 544.8,935.2 549.0,938.6 553.1,942.1 557.2,945.7 561.1,949.4 565.0,953.2 568.8,957.1 572.5,961.2 576.1,965.4 579.7,969.7 583.1,974.2 586.4,978.8 589.5,983.5 592.6,988.4 595.4,993.3 598.1,998.3 600.5,1003.4 602.8,1008.5 604.8,1013.7 606.5,1019.0 607.9,1024.3 609.1,1029.5 610.0,1034.9 610.5,1040.2 610.8,1045.5 610.9,1050.8 610.7,1056.1 610.2,1061.4 609.4,1066.6 608.5,1071.9 607.3,1077.1 605.9,1082.2 604.3,1087.4 602.4,1092.5 600.4,1097.5 598.2,1102.5 595.7,1107.4 593.2,1112.2 590.4,1117.0 587.5,1121.7 584.4,1126.3 581.2,1130.9 577.9,1135.3 574.4,1139.6 570.8,1143.8 567.1,1148.0 563.2,1152.0 559.3,1155.8 555.3,1159.6 551.2,1163.2 547.0,1166.8 542.7,1170.2 538.4,1173.5 533.9,1176.6 529.4,1179.7 524.8,1182.7 520.2,1185.5 515.4,1188.3 510.7,1190.9 505.8,1193.5 500.9,1195.9 496.0,1198.3 491.0,1200.5 486.0,1202.7 480.9,1204.7 475.8,1206.7 470.6,1208.6 465.4,1210.4 460.2,1212.1 454.9,1213.8 449.7,1215.3 444.4,1216.8 439.1,1218.2 433.8,1219.6 428.4,1220.8 423.1,1222.0 417.7,1223.1 412.4,1224.2 407.0,1225.2 401.7,1226.1 396.3,1227.0 390.9,1227.8 385.5,1228.5 380.1,1229.2 374.7,1229.9 369.3,1230.4 363.9,1231.0 358.5,1231.4 353.1,1231.9 347.6,1232.2 342.2,1232.6 336.8,1232.9 331.3,1233.1 325.9,1233.3 320.4,1233.5 314.9,1233.6 309.5,1233.7 304.0,1233.8 298.5,1233.8 293.1,1233.8 287.6,1233.8 282.1,1233.7 276.6,1233.6 271.1,1233.4 265.6,1233.1 260.1,1232.8 254.6,1232.3 249.0,1231.8 243.5,1231.1 238.0,1230.4 232.5,1229.4 226.9,1228.4 221.4,1227.2 215.9,1225.8 210.6,1224.2 205.3,1222.3 200.3,1220.1 195.6,1217.5 191.1,1214.6 186.9,1211.4 183.0,1207.9 179.4,1204.1 176.0,1200.1 172.9,1195.8 170.0,1191.3 167.3,1186.6 164.9,1181.8 162.7,1176.8 160.8,1171.7 159.0,1166.5 157.5,1161.3 156.2,1156.0 155.0,1150.6 154.1,1145.3 153.3,1139.9 152.7,1134.4 152.3,1129.0 152.0,1123.5 151.9,1118.0 152.0,1112.5 152.2,1107.0 152.5,1101.5 153.0,1096.0 153.6,1090.5 154.3,1085.0 155.2,1079.5 156.1,1074.0 157.2,1068.5 158.4,1063.1 159.6,1057.7 161.0,1052.3 162.5,1047.0 164.0,1041.7 165.7,1036.4 167.4,1031.2 169.2,1026.0 171.2,1020.8 173.2,1015.7 175.3,1010.6 177.6,1005.6 179.9,1000.7 182.3,995.8 184.8,991.0 187.4,986.2 190.1,981.5 192.9,976.8 195.8,972.2 198.8,967.7 201.9,963.3 205.1,958.9 208.4,954.7 211.7,950.5 215.2,946.3 218.8,942.3 222.5,938.4 226.2,934.5 230.1,930.7 234.0,927.1 238.1,923.5 242.2,920.0 246.5,916.7 250.8,913.4 255.2,910.3 259.8,907.2 264.4,904.3 269.1,901.5 273.9,898.8 278.7,896.2 283.6,893.7 288.6,891.4 293.7,889.1 298.8,887.0 304.0,885.0 309.2,883.2 314.5,881.5 319.8,879.9 325.2,878.4 330.5,877.1 335.9,875.9 341.4,874.9 346.8,874.0 352.3,873.2 357.8,872.6 363.3,872.1 368.7,871.8 374.2,871.6 379.7,871.5Z" fill="none" stroke="rgb(0,0,239)" stroke-width="3.9" stroke-linejoin="round"/>
<path d="M345.2,936.3 349.5,936.4 353.9,936.6 358.3,937.0 362.7,937.5 367.1,938.1 371.4,938.8 375.8,939.6 380.2,940.5 384.5,941.5 388.9,942.5 393.2,943.7 397.5,944.9 401.8,946.3 406.0,947.7 410.2,949.1 414.4,950.6 418.5,952.2 422.6,953.8 426.6,955.5 430.6,957.2 434.6,959.0 438.5,960.9 442.3,962.9 446.1,964.9 449.8,967.0 453.5,969.2 457.1,971.5 460.7,973.8 464.2,976.3 467.6,978.9 471.0,981.5 474.3,984.3 477.5,987.2 480.6,990.1 483.7,993.2 486.7,996.3 489.6,999.5 492.5,1002.8 495.2,1006.2 497.8,1009.7 500.4,1013.2 502.8,1016.9 505.2,1020.6 507.4,1024.3 509.5,1028.1 511.5,1032.0 513.4,1036.0 515.1,1040.0 516.8,1044.0 518.3,1048.1 519.6,1052.3 520.9,1056.5 521.9,1060.7 522.9,1065.0 523.7,1069.3 524.3,1073.7 524.8,1078.0 525.2,1082.4 525.4,1086.8 525.4,1091.2 525.3,1095.6 525.1,1100.0 524.7,1104.4 524.1,1108.7 523.4,1113.0 522.5,1117.3 521.5,1121.5 520.3,1125.7 519.0,1129.8 517.5,1133.9 515.9,1137.8 514.1,1141.7 512.1,1145.5 510.0,1149.3 507.7,1152.9 505.3,1156.4 502.7,1159.8 500.0,1163.0 497.0,1166.2 494.0,1169.2 490.8,1172.1 487.5,1174.9 484.1,1177.6 480.6,1180.2 477.0,1182.6 473.4,1185.0 469.6,1187.3 465.9,1189.5 462.1,1191.7 458.2,1193.7 454.3,1195.7 450.4,1197.6 446.4,1199.4 442.4,1201.1 438.4,1202.8 434.3,1204.5 430.2,1206.0 426.1,1207.6 422.0,1209.0 417.9,1210.4 413.7,1211.8 409.5,1213.1 405.3,1214.4 401.1,1215.7 396.9,1216.9 392.7,1218.1 388.5,1219.2 384.2,1220.3 380.0,1221.4 375.7,1222.4 371.5,1223.4 367.2,1224.3 363.0,1225.2 358.7,1226.0 354.4,1226.8 350.1,1227.5 345.8,1228.2 341.5,1228.8 337.2,1229.3 332.9,1229.8 328.6,1230.3 324.2,1230.7 319.9,1231.0 315.6,1231.2 311.3,1231.4 306.9,1231.6 302.6,1231.6 298.2,1231.6 293.9,1231.5 289.5,1231.4 285.2,1231.2 280.8,1230.9 276.5,1230.5 272.1,1230.1 267.8,1229.6 263.4,1229.0 259.1,1228.3 254.7,1227.6 250.4,1226.7 246.0,1225.8 241.7,1224.8 237.4,1223.6 233.2,1222.4 229.0,1221.1 224.8,1219.6 220.8,1218.0 216.8,1216.2 212.9,1214.3 209.2,1212.3 205.5,1210.1 202.0,1207.7 198.6,1205.1 195.4,1202.4 192.4,1199.5 189.5,1196.4 186.7,1193.1 184.1,1189.7 181.7,1186.2 179.5,1182.5 177.4,1178.8 175.5,1174.9 173.7,1170.9 172.1,1166.9 170.7,1162.8 169.4,1158.7 168.3,1154.5 167.4,1150.2 166.6,1146.0 166.0,1141.7 165.5,1137.4 165.2,1133.0 165.0,1128.6 164.9,1124.3 165.0,1119.9 165.2,1115.5 165.5,1111.1 165.9,1106.7 166.4,1102.3 167.1,1098.0 167.8,1093.7 168.7,1089.3 169.7,1085.0 170.7,1080.8 171.9,1076.5 173.1,1072.3 174.5,1068.1 175.9,1063.9 177.5,1059.8 179.1,1055.7 180.8,1051.7 182.7,1047.7 184.6,1043.7 186.5,1039.7 188.6,1035.9 190.8,1032.0 193.0,1028.2 195.3,1024.5 197.7,1020.8 200.2,1017.1 202.7,1013.5 205.4,1010.0 208.0,1006.5 210.8,1003.1 213.6,999.8 216.5,996.5 219.5,993.3 222.5,990.1 225.6,987.1 228.8,984.0 232.0,981.1 235.3,978.3 238.6,975.5 242.0,972.8 245.5,970.1 249.0,967.6 252.5,965.2 256.1,962.8 259.8,960.5 263.5,958.3 267.2,956.2 271.0,954.2 274.9,952.3 278.7,950.5 282.7,948.8 286.6,947.2 290.6,945.7 294.6,944.3 298.7,943.0 302.8,941.8 306.9,940.7 311.1,939.7 315.2,938.9 319.5,938.1 323.7,937.5 327.9,937.0 332.2,936.6 336.5,936.4 340.8,936.3 345.2,936.3Z" fill="none" stroke="rgb(0,80,255)" stroke-width="3.9" stroke-linejoin="round"/>
<path d="M334.9,977.7 338.5,977.9 342.1,978.1 345.8,978.4 349.4,978.8 353.0,979.2 356.5,979.8 360.1,980.5 363.7,981.2 367.2,982.0 370.7,982.9 374.3,983.9 377.7,985.0 381.2,986.1 384.7,987.4 388.1,988.7 391.5,990.1 394.9,991.5 398.2,993.1 401.5,994.7 404.8,996.4 408.0,998.2 411.3,1000.1 414.4,1002.0 417.6,1004.0 420.7,1006.1 423.7,1008.2 426.7,1010.4 429.7,1012.7 432.6,1015.1 435.5,1017.5 438.3,1020.0 441.1,1022.6 443.8,1025.2 446.4,1027.9 449.0,1030.6 451.5,1033.4 453.9,1036.3 456.3,1039.2 458.5,1042.1 460.7,1045.1 462.8,1048.2 464.8,1051.3 466.6,1054.4 468.4,1057.6 470.1,1060.8 471.7,1064.0 473.2,1067.3 474.5,1070.7 475.7,1074.0 476.8,1077.4 477.8,1080.8 478.7,1084.3 479.4,1087.8 480.0,1091.3 480.4,1094.8 480.7,1098.3 480.8,1101.9 480.8,1105.4 480.7,1109.0 480.4,1112.6 479.9,1116.2 479.3,1119.7 478.6,1123.3 477.8,1126.9 476.8,1130.4 475.7,1133.9 474.5,1137.4 473.1,1140.8 471.7,1144.2 470.1,1147.6 468.4,1150.9 466.6,1154.1 464.7,1157.3 462.7,1160.5 460.6,1163.5 458.4,1166.5 456.1,1169.4 453.7,1172.3 451.2,1175.0 448.6,1177.7 446.0,1180.2 443.2,1182.7 440.4,1185.1 437.6,1187.4 434.6,1189.6 431.6,1191.7 428.6,1193.7 425.4,1195.7 422.3,1197.6 419.1,1199.4 415.8,1201.2 412.5,1202.8 409.2,1204.4 405.8,1206.0 402.4,1207.5 399.0,1208.9 395.6,1210.2 392.1,1211.5 388.6,1212.7 385.2,1213.9 381.7,1215.0 378.2,1216.1 374.6,1217.1 371.1,1218.1 367.6,1219.0 364.0,1219.9 360.5,1220.7 356.9,1221.4 353.3,1222.2 349.8,1222.8 346.2,1223.4 342.6,1224.0 339.0,1224.5 335.4,1225.0 331.8,1225.5 328.2,1225.9 324.6,1226.2 321.0,1226.6 317.4,1226.9 313.8,1227.1 310.2,1227.3 306.7,1227.5 303.1,1227.6 299.5,1227.6 295.8,1227.7 292.2,1227.6 288.6,1227.5 285.0,1227.4 281.3,1227.1 277.7,1226.8 274.0,1226.5 270.3,1226.0 266.6,1225.5 262.8,1224.9 259.1,1224.2 255.3,1223.5 251.5,1222.6 247.8,1221.7 244.1,1220.7 240.4,1219.6 236.8,1218.3 233.2,1217.0 229.6,1215.6 226.2,1214.1 222.8,1212.5 219.5,1210.7 216.4,1208.9 213.3,1206.9 210.3,1204.8 207.5,1202.7 204.8,1200.3 202.3,1197.9 199.9,1195.4 197.6,1192.8 195.4,1190.0 193.4,1187.2 191.5,1184.3 189.7,1181.3 188.1,1178.2 186.6,1175.0 185.2,1171.8 183.9,1168.5 182.7,1165.2 181.7,1161.7 180.7,1158.3 179.9,1154.8 179.2,1151.2 178.6,1147.6 178.1,1144.0 177.8,1140.3 177.5,1136.7 177.3,1133.0 177.3,1129.2 177.3,1125.5 177.5,1121.8 177.8,1118.1 178.1,1114.3 178.6,1110.6 179.1,1106.9 179.8,1103.2 180.5,1099.5 181.3,1095.9 182.2,1092.3 183.3,1088.7 184.4,1085.2 185.6,1081.6 186.8,1078.2 188.2,1074.7 189.6,1071.3 191.2,1067.9 192.8,1064.6 194.4,1061.3 196.2,1058.1 198.0,1054.9 200.0,1051.7 201.9,1048.6 204.0,1045.5 206.1,1042.5 208.3,1039.6 210.6,1036.7 212.9,1033.8 215.3,1031.0 217.8,1028.3 220.3,1025.6 222.9,1023.0 225.5,1020.4 228.2,1018.0 231.0,1015.5 233.8,1013.2 236.6,1010.9 239.5,1008.6 242.5,1006.5 245.5,1004.4 248.6,1002.4 251.7,1000.5 254.8,998.6 258.0,996.8 261.3,995.1 264.5,993.5 267.8,991.9 271.2,990.4 274.6,989.0 278.0,987.7 281.4,986.4 284.8,985.3 288.3,984.2 291.8,983.2 295.4,982.3 298.9,981.4 302.5,980.7 306.0,980.0 309.6,979.4 313.2,978.9 316.8,978.5 320.4,978.2 324.0,977.9 327.7,977.8 331.3,977.7 334.9,977.7Z" fill="none" stroke="rgb(0,191,255)" stroke-width="3.9" stroke-linejoin="round"/>
<path d="M317.0,1008.9 320.1,1008.8 323.3,1008.9 326.4,1009.0 329.5,1009.2 332.7,1009.4 335.8,1009.8 338.9,1010.2 342.0,1010.6 345.1,1011.2 348.2,1011.8 351.3,1012.5 354.3,1013.2 357.4,1014.0 360.4,1014.9 363.4,1015.9 366.4,1016.9 369.4,1018.0 372.4,1019.1 375.3,1020.4 378.2,1021.7 381.0,1023.0 383.9,1024.4 386.7,1025.9 389.5,1027.5 392.2,1029.1 394.9,1030.7 397.6,1032.5 400.2,1034.3 402.8,1036.2 405.4,1038.1 407.9,1040.1 410.3,1042.1 412.7,1044.2 415.1,1046.4 417.4,1048.6 419.6,1050.9 421.8,1053.2 424.0,1055.6 426.0,1058.0 428.0,1060.5 430.0,1063.0 431.8,1065.6 433.6,1068.2 435.3,1070.8 436.9,1073.5 438.4,1076.2 439.9,1079.0 441.3,1081.8 442.5,1084.6 443.7,1087.5 444.8,1090.4 445.8,1093.3 446.7,1096.3 447.5,1099.3 448.1,1102.3 448.7,1105.3 449.1,1108.3 449.5,1111.4 449.7,1114.5 449.8,1117.6 449.8,1120.7 449.6,1123.9 449.4,1127.0 449.0,1130.1 448.5,1133.3 447.9,1136.4 447.2,1139.5 446.4,1142.6 445.5,1145.7 444.5,1148.7 443.4,1151.8 442.2,1154.8 440.9,1157.8 439.5,1160.7 438.1,1163.6 436.5,1166.4 434.9,1169.2 433.2,1171.9 431.4,1174.6 429.6,1177.2 427.7,1179.7 425.7,1182.2 423.6,1184.5 421.5,1186.8 419.3,1189.1 417.1,1191.2 414.8,1193.2 412.5,1195.2 410.1,1197.0 407.6,1198.8 405.1,1200.5 402.6,1202.1 400.0,1203.6 397.3,1205.1 394.6,1206.5 391.9,1207.8 389.2,1209.0 386.3,1210.2 383.5,1211.3 380.6,1212.3 377.7,1213.3 374.8,1214.2 371.8,1215.1 368.8,1215.9 365.7,1216.6 362.7,1217.3 359.6,1217.9 356.5,1218.5 353.3,1219.1 350.2,1219.6 347.0,1220.0 343.8,1220.4 340.6,1220.8 337.4,1221.1 334.1,1221.4 330.9,1221.7 327.6,1222.0 324.3,1222.2 321.1,1222.3 317.8,1222.5 314.5,1222.6 311.2,1222.7 307.9,1222.8 304.6,1222.8 301.3,1222.9 298.0,1222.8 294.8,1222.8 291.5,1222.7 288.3,1222.5 285.0,1222.3 281.8,1222.1 278.6,1221.8 275.4,1221.5 272.2,1221.1 269.1,1220.6 266.0,1220.1 262.9,1219.5 259.8,1218.9 256.8,1218.1 253.8,1217.4 250.8,1216.5 247.9,1215.6 245.0,1214.5 242.2,1213.5 239.4,1212.3 236.6,1211.0 233.9,1209.7 231.2,1208.2 228.6,1206.7 226.1,1205.1 223.6,1203.3 221.1,1201.5 218.8,1199.6 216.4,1197.5 214.2,1195.4 212.0,1193.2 209.9,1190.9 207.9,1188.5 205.9,1186.0 204.1,1183.5 202.3,1180.9 200.7,1178.2 199.1,1175.5 197.7,1172.7 196.4,1169.8 195.2,1166.9 194.1,1164.0 193.1,1161.0 192.3,1158.0 191.6,1154.9 191.0,1151.8 190.5,1148.7 190.1,1145.6 189.9,1142.4 189.7,1139.3 189.6,1136.1 189.7,1133.0 189.8,1129.8 190.0,1126.6 190.3,1123.5 190.7,1120.3 191.1,1117.2 191.7,1114.1 192.3,1111.0 193.1,1107.9 193.9,1104.8 194.7,1101.7 195.7,1098.7 196.7,1095.7 197.9,1092.7 199.0,1089.7 200.3,1086.8 201.6,1083.8 203.0,1081.0 204.5,1078.1 206.1,1075.3 207.7,1072.5 209.3,1069.8 211.1,1067.1 212.9,1064.5 214.7,1061.9 216.7,1059.3 218.6,1056.8 220.7,1054.3 222.8,1051.9 224.9,1049.6 227.1,1047.3 229.4,1045.0 231.7,1042.8 234.0,1040.7 236.4,1038.7 238.9,1036.7 241.3,1034.7 243.9,1032.9 246.5,1031.1 249.1,1029.4 251.7,1027.7 254.4,1026.1 257.2,1024.6 259.9,1023.1 262.7,1021.7 265.6,1020.4 268.4,1019.2 271.3,1018.0 274.2,1016.9 277.2,1015.9 280.1,1014.9 283.1,1014.0 286.1,1013.2 289.2,1012.4 292.2,1011.7 295.3,1011.1 298.3,1010.6 301.4,1010.1 304.5,1009.7 307.6,1009.4 310.7,1009.1 313.9,1009.0 317.0,1008.9Z" fill="none" stroke="rgb(32,255,223)" stroke-width="3.9" stroke-linejoin="round"/>
<path d="M316.9,1033.9 319.7,1034.0 322.4,1034.1 325.1,1034.3 327.9,1034.5 330.6,1034.8 333.3,1035.1 336.0,1035.5 338.7,1036.0 341.4,1036.5 344.1,1037.1 346.8,1037.7 349.4,1038.3 352.1,1039.1 354.7,1039.9 357.3,1040.7 359.8,1041.6 362.4,1042.6 364.9,1043.6 367.4,1044.7 369.8,1045.8 372.3,1047.0 374.6,1048.3 377.0,1049.6 379.3,1051.0 381.6,1052.5 383.8,1054.0 386.0,1055.6 388.2,1057.3 390.3,1059.0 392.4,1060.7 394.4,1062.6 396.3,1064.5 398.2,1066.4 400.1,1068.4 401.9,1070.4 403.6,1072.5 405.3,1074.7 406.9,1076.9 408.5,1079.1 409.9,1081.4 411.4,1083.7 412.7,1086.0 414.0,1088.4 415.2,1090.8 416.3,1093.3 417.4,1095.8 418.4,1098.3 419.3,1100.9 420.1,1103.4 420.8,1106.0 421.5,1108.7 422.0,1111.3 422.5,1114.0 422.9,1116.7 423.2,1119.4 423.4,1122.1 423.5,1124.8 423.5,1127.5 423.4,1130.2 423.3,1133.0 423.1,1135.7 422.8,1138.4 422.4,1141.1 421.9,1143.8 421.3,1146.5 420.7,1149.2 420.0,1151.8 419.2,1154.4 418.3,1157.0 417.3,1159.6 416.3,1162.1 415.2,1164.6 414.0,1167.0 412.8,1169.4 411.5,1171.8 410.1,1174.1 408.7,1176.3 407.1,1178.5 405.6,1180.7 403.9,1182.7 402.2,1184.7 400.4,1186.7 398.6,1188.5 396.7,1190.3 394.7,1192.1 392.7,1193.7 390.6,1195.3 388.5,1196.8 386.3,1198.3 384.0,1199.6 381.8,1201.0 379.4,1202.2 377.1,1203.5 374.7,1204.6 372.2,1205.7 369.7,1206.8 367.2,1207.8 364.7,1208.7 362.1,1209.6 359.5,1210.5 356.9,1211.3 354.2,1212.0 351.5,1212.8 348.8,1213.5 346.1,1214.1 343.4,1214.8 340.7,1215.3 337.9,1215.9 335.2,1216.4 332.4,1216.9 329.6,1217.4 326.8,1217.8 324.1,1218.2 321.3,1218.5 318.5,1218.9 315.7,1219.1 312.9,1219.4 310.1,1219.6 307.3,1219.7 304.5,1219.8 301.7,1219.9 298.9,1219.9 296.2,1219.9 293.4,1219.8 290.6,1219.7 287.9,1219.6 285.1,1219.3 282.4,1219.1 279.7,1218.8 277.0,1218.4 274.3,1218.0 271.6,1217.5 268.9,1216.9 266.3,1216.4 263.6,1215.7 261.0,1215.0 258.4,1214.2 255.9,1213.4 253.3,1212.5 250.8,1211.5 248.3,1210.5 245.9,1209.4 243.4,1208.3 241.1,1207.0 238.7,1205.8 236.4,1204.4 234.2,1203.0 232.0,1201.5 229.9,1199.9 227.8,1198.3 225.8,1196.5 223.9,1194.8 222.0,1192.9 220.2,1191.0 218.5,1189.0 216.8,1187.0 215.3,1184.9 213.8,1182.7 212.4,1180.5 211.0,1178.2 209.8,1175.9 208.6,1173.5 207.6,1171.1 206.6,1168.7 205.7,1166.2 204.9,1163.7 204.2,1161.1 203.6,1158.5 203.1,1155.9 202.7,1153.2 202.3,1150.6 202.1,1147.9 201.9,1145.2 201.9,1142.5 201.9,1139.7 202.0,1137.0 202.2,1134.2 202.4,1131.5 202.7,1128.8 203.1,1126.0 203.6,1123.3 204.2,1120.6 204.8,1117.9 205.5,1115.2 206.2,1112.5 207.0,1109.8 207.9,1107.2 208.9,1104.6 209.9,1102.0 210.9,1099.4 212.1,1096.8 213.3,1094.3 214.5,1091.8 215.8,1089.4 217.2,1086.9 218.6,1084.5 220.1,1082.2 221.7,1079.9 223.2,1077.6 224.9,1075.4 226.6,1073.2 228.3,1071.1 230.1,1069.0 231.9,1066.9 233.8,1065.0 235.7,1063.0 237.7,1061.2 239.7,1059.4 241.8,1057.6 243.9,1055.9 246.0,1054.3 248.2,1052.8 250.4,1051.3 252.7,1049.8 255.0,1048.5 257.3,1047.2 259.6,1046.0 262.0,1044.8 264.4,1043.7 266.9,1042.6 269.3,1041.7 271.8,1040.7 274.3,1039.9 276.9,1039.1 279.4,1038.4 282.0,1037.7 284.6,1037.0 287.3,1036.5 289.9,1036.0 292.6,1035.5 295.2,1035.1 297.9,1034.8 300.6,1034.5 303.3,1034.3 306.0,1034.1 308.7,1034.0 311.5,1033.9 314.2,1033.9 316.9,1033.9Z" fill="none" stroke="rgb(143,255,112)" stroke-width="3.9" stroke-linejoin="round"/>
<path d="M312.7,1055.7 315.0,1055.8 317.3,1056.0 319.6,1056.3 321.9,1056.6 324.2,1057.0 326.5,1057.4 328.8,1057.9 331.0,1058.4 333.3,1059.0 335.5,1059.7 337.7,1060.3 340.0,1061.1 342.1,1061.9 344.3,1062.7 346.5,1063.6 348.6,1064.6 350.7,1065.6 352.8,1066.6 354.8,1067.7 356.8,1068.9 358.8,1070.0 360.8,1071.3 362.7,1072.5 364.6,1073.9 366.5,1075.2 368.3,1076.6 370.1,1078.1 371.9,1079.5 373.6,1081.1 375.3,1082.6 376.9,1084.2 378.5,1085.8 380.1,1087.5 381.6,1089.2 383.0,1091.0 384.4,1092.7 385.8,1094.5 387.1,1096.4 388.3,1098.3 389.5,1100.2 390.7,1102.1 391.8,1104.1 392.8,1106.0 393.8,1108.1 394.7,1110.1 395.5,1112.2 396.3,1114.3 397.0,1116.4 397.6,1118.6 398.2,1120.8 398.7,1123.0 399.2,1125.2 399.5,1127.4 399.8,1129.7 400.1,1132.0 400.2,1134.3 400.3,1136.6 400.3,1138.9 400.2,1141.3 400.0,1143.6 399.8,1146.0 399.5,1148.3 399.1,1150.6 398.7,1153.0 398.1,1155.3 397.5,1157.6 396.9,1159.8 396.1,1162.1 395.3,1164.3 394.4,1166.4 393.5,1168.6 392.5,1170.6 391.4,1172.7 390.2,1174.7 389.0,1176.6 387.7,1178.5 386.3,1180.3 384.9,1182.0 383.4,1183.7 381.9,1185.4 380.3,1186.9 378.6,1188.5 376.9,1189.9 375.2,1191.4 373.4,1192.7 371.5,1194.0 369.6,1195.3 367.7,1196.5 365.7,1197.7 363.7,1198.8 361.6,1199.9 359.6,1200.9 357.5,1201.9 355.3,1202.8 353.2,1203.7 351.0,1204.6 348.8,1205.4 346.6,1206.2 344.4,1206.9 342.2,1207.6 339.9,1208.3 337.7,1209.0 335.4,1209.6 333.1,1210.1 330.9,1210.7 328.6,1211.2 326.3,1211.6 324.0,1212.1 321.7,1212.5 319.4,1212.8 317.2,1213.2 314.9,1213.4 312.6,1213.7 310.3,1213.9 308.0,1214.1 305.7,1214.2 303.4,1214.3 301.1,1214.4 298.8,1214.4 296.5,1214.4 294.2,1214.4 291.9,1214.3 289.6,1214.2 287.3,1214.0 285.0,1213.8 282.7,1213.6 280.4,1213.3 278.2,1213.0 275.9,1212.6 273.7,1212.3 271.4,1211.8 269.2,1211.3 266.9,1210.8 264.7,1210.3 262.5,1209.7 260.2,1209.1 258.0,1208.4 255.8,1207.7 253.7,1206.9 251.5,1206.1 249.4,1205.2 247.3,1204.3 245.2,1203.3 243.2,1202.3 241.2,1201.2 239.2,1200.0 237.3,1198.8 235.5,1197.5 233.7,1196.1 232.0,1194.6 230.3,1193.0 228.7,1191.4 227.2,1189.7 225.7,1187.9 224.4,1186.0 223.0,1184.1 221.8,1182.1 220.6,1180.1 219.5,1178.0 218.5,1175.9 217.5,1173.7 216.6,1171.5 215.8,1169.3 215.0,1167.0 214.3,1164.7 213.7,1162.4 213.1,1160.1 212.7,1157.8 212.3,1155.4 211.9,1153.0 211.7,1150.7 211.5,1148.3 211.4,1146.0 211.3,1143.7 211.4,1141.4 211.5,1139.1 211.7,1136.8 211.9,1134.5 212.2,1132.3 212.6,1130.1 213.1,1127.8 213.6,1125.7 214.1,1123.5 214.8,1121.3 215.5,1119.2 216.2,1117.1 217.1,1115.0 217.9,1113.0 218.9,1110.9 219.9,1108.9 220.9,1106.9 222.0,1105.0 223.2,1103.0 224.4,1101.1 225.6,1099.3 226.9,1097.4 228.3,1095.6 229.6,1093.8 231.1,1092.1 232.6,1090.3 234.1,1088.7 235.7,1087.0 237.3,1085.4 238.9,1083.8 240.6,1082.2 242.3,1080.7 244.1,1079.3 245.9,1077.8 247.7,1076.4 249.6,1075.1 251.5,1073.7 253.4,1072.4 255.4,1071.2 257.3,1070.0 259.3,1068.9 261.4,1067.7 263.4,1066.7 265.5,1065.7 267.6,1064.7 269.8,1063.7 271.9,1062.9 274.1,1062.0 276.3,1061.2 278.5,1060.5 280.7,1059.8 282.9,1059.2 285.1,1058.6 287.4,1058.0 289.7,1057.5 291.9,1057.1 294.2,1056.7 296.5,1056.4 298.8,1056.1 301.1,1055.9 303.4,1055.8 305.8,1055.7 308.1,1055.6 310.4,1055.6 312.7,1055.7Z" fill="none" stroke="rgb(239,255,16)" stroke-width="3.9" stroke-linejoin="round"/>
<path d="M295.2,1075.0 297.1,1074.8 299.0,1074.7 301.0,1074.6 302.9,1074.5 304.8,1074.5 306.8,1074.6 308.7,1074.7 310.6,1074.8 312.5,1075.0 314.4,1075.3 316.4,1075.6 318.3,1075.9 320.2,1076.3 322.0,1076.8 323.9,1077.3 325.8,1077.8 327.6,1078.4 329.5,1079.0 331.3,1079.7 333.1,1080.4 334.9,1081.1 336.7,1081.9 338.4,1082.8 340.1,1083.6 341.9,1084.5 343.5,1085.5 345.2,1086.5 346.8,1087.5 348.5,1088.6 350.1,1089.7 351.6,1090.8 353.1,1092.0 354.7,1093.2 356.1,1094.4 357.6,1095.7 359.0,1097.0 360.3,1098.3 361.7,1099.6 363.0,1101.0 364.2,1102.4 365.5,1103.9 366.7,1105.4 367.8,1106.9 368.9,1108.4 370.0,1109.9 371.0,1111.5 371.9,1113.1 372.9,1114.7 373.7,1116.4 374.6,1118.1 375.4,1119.7 376.1,1121.5 376.8,1123.2 377.4,1124.9 378.0,1126.7 378.5,1128.5 378.9,1130.3 379.3,1132.1 379.7,1134.0 380.0,1135.8 380.2,1137.7 380.4,1139.6 380.5,1141.5 380.5,1143.4 380.5,1145.3 380.4,1147.2 380.2,1149.2 380.0,1151.1 379.8,1153.0 379.4,1155.0 379.1,1156.9 378.6,1158.8 378.1,1160.7 377.6,1162.6 377.0,1164.4 376.3,1166.3 375.6,1168.1 374.8,1169.9 374.0,1171.6 373.1,1173.4 372.2,1175.1 371.2,1176.7 370.2,1178.3 369.1,1179.9 368.0,1181.4 366.8,1182.9 365.6,1184.3 364.3,1185.7 363.0,1187.0 361.7,1188.3 360.3,1189.6 358.9,1190.8 357.4,1191.9 355.9,1193.0 354.4,1194.1 352.8,1195.1 351.2,1196.1 349.6,1197.0 347.9,1197.9 346.2,1198.8 344.5,1199.6 342.8,1200.4 341.1,1201.2 339.3,1201.9 337.5,1202.5 335.7,1203.2 333.8,1203.8 332.0,1204.4 330.1,1204.9 328.3,1205.4 326.4,1205.9 324.5,1206.3 322.6,1206.7 320.7,1207.1 318.8,1207.4 316.8,1207.7 314.9,1208.0 313.0,1208.3 311.0,1208.5 309.1,1208.7 307.1,1208.8 305.1,1208.9 303.2,1209.0 301.2,1209.1 299.2,1209.1 297.3,1209.1 295.3,1209.0 293.3,1208.9 291.4,1208.8 289.4,1208.7 287.5,1208.5 285.5,1208.3 283.5,1208.1 281.6,1207.8 279.7,1207.5 277.7,1207.1 275.8,1206.8 273.9,1206.4 271.9,1205.9 270.0,1205.4 268.2,1204.9 266.3,1204.4 264.4,1203.8 262.6,1203.2 260.8,1202.5 259.0,1201.7 257.2,1201.0 255.5,1200.1 253.8,1199.3 252.1,1198.4 250.5,1197.4 248.9,1196.3 247.3,1195.2 245.8,1194.1 244.3,1192.9 242.9,1191.7 241.5,1190.4 240.1,1189.0 238.8,1187.7 237.6,1186.2 236.4,1184.8 235.2,1183.3 234.1,1181.7 233.0,1180.2 232.0,1178.6 231.1,1177.0 230.2,1175.3 229.3,1173.6 228.5,1171.9 227.8,1170.2 227.1,1168.5 226.5,1166.7 226.0,1164.9 225.5,1163.2 225.1,1161.4 224.7,1159.6 224.4,1157.8 224.2,1155.9 224.0,1154.1 223.9,1152.3 223.9,1150.5 223.9,1148.7 224.0,1146.9 224.1,1145.0 224.3,1143.2 224.6,1141.4 224.9,1139.6 225.3,1137.8 225.7,1136.0 226.2,1134.2 226.7,1132.4 227.3,1130.7 227.9,1128.9 228.6,1127.1 229.4,1125.4 230.1,1123.7 231.0,1121.9 231.8,1120.2 232.8,1118.6 233.7,1116.9 234.7,1115.2 235.8,1113.6 236.9,1112.0 238.0,1110.4 239.2,1108.8 240.4,1107.3 241.6,1105.8 242.9,1104.3 244.2,1102.8 245.6,1101.3 247.0,1099.9 248.4,1098.5 249.8,1097.1 251.3,1095.8 252.8,1094.5 254.3,1093.2 255.9,1092.0 257.5,1090.8 259.1,1089.6 260.7,1088.5 262.4,1087.4 264.1,1086.3 265.8,1085.3 267.5,1084.3 269.3,1083.4 271.0,1082.5 272.8,1081.6 274.6,1080.8 276.4,1080.1 278.2,1079.3 280.1,1078.7 281.9,1078.0 283.8,1077.4 285.7,1076.9 287.6,1076.4 289.5,1076.0 291.4,1075.6 293.3,1075.3 295.2,1075.0Z" fill="none" stroke="rgb(255,175,0)" stroke-width="3.9" stroke-linejoin="round"/>
<path d="M295.0,1094.9 296.5,1094.7 298.0,1094.6 299.6,1094.5 301.1,1094.4 302.6,1094.4 304.2,1094.4 305.7,1094.4 307.2,1094.4 308.7,1094.5 310.3,1094.6 311.8,1094.8 313.3,1095.0 314.8,1095.2 316.3,1095.4 317.7,1095.7 319.2,1096.0 320.7,1096.4 322.1,1096.8 323.6,1097.2 325.0,1097.7 326.4,1098.2 327.8,1098.8 329.2,1099.4 330.5,1100.0 331.9,1100.7 333.2,1101.4 334.5,1102.1 335.8,1102.9 337.0,1103.7 338.3,1104.6 339.5,1105.6 340.7,1106.5 341.8,1107.5 343.0,1108.6 344.1,1109.7 345.2,1110.8 346.2,1112.0 347.3,1113.2 348.3,1114.4 349.2,1115.6 350.2,1116.9 351.1,1118.2 351.9,1119.6 352.7,1120.9 353.5,1122.3 354.3,1123.7 355.0,1125.1 355.7,1126.6 356.3,1128.0 356.9,1129.5 357.5,1130.9 358.0,1132.4 358.4,1133.9 358.8,1135.4 359.2,1136.9 359.5,1138.4 359.8,1139.8 360.0,1141.3 360.2,1142.8 360.3,1144.3 360.4,1145.8 360.4,1147.2 360.4,1148.7 360.3,1150.1 360.1,1151.5 360.0,1152.9 359.7,1154.4 359.4,1155.7 359.1,1157.1 358.8,1158.5 358.3,1159.9 357.9,1161.2 357.4,1162.5 356.8,1163.8 356.2,1165.1 355.6,1166.4 355.0,1167.7 354.3,1168.9 353.5,1170.2 352.7,1171.4 351.9,1172.6 351.1,1173.7 350.2,1174.9 349.3,1176.0 348.3,1177.1 347.3,1178.2 346.3,1179.3 345.3,1180.4 344.2,1181.4 343.1,1182.4 342.0,1183.4 340.9,1184.4 339.7,1185.3 338.5,1186.2 337.3,1187.1 336.0,1188.0 334.7,1188.8 333.4,1189.6 332.1,1190.4 330.8,1191.2 329.5,1191.9 328.1,1192.6 326.7,1193.3 325.3,1193.9 323.9,1194.5 322.5,1195.1 321.0,1195.6 319.6,1196.2 318.1,1196.7 316.6,1197.1 315.1,1197.5 313.7,1197.9 312.1,1198.3 310.6,1198.6 309.1,1198.9 307.6,1199.1 306.1,1199.4 304.5,1199.5 303.0,1199.7 301.5,1199.8 299.9,1199.9 298.4,1199.9 296.8,1199.9 295.3,1199.9 293.8,1199.8 292.2,1199.8 290.7,1199.6 289.1,1199.5 287.6,1199.3 286.1,1199.1 284.5,1198.9 283.0,1198.6 281.5,1198.3 280.0,1198.0 278.4,1197.6 276.9,1197.2 275.4,1196.8 273.9,1196.4 272.5,1195.9 271.0,1195.5 269.5,1194.9 268.1,1194.4 266.6,1193.8 265.2,1193.2 263.8,1192.6 262.4,1192.0 261.1,1191.3 259.7,1190.6 258.4,1189.8 257.1,1189.1 255.9,1188.3 254.6,1187.5 253.4,1186.6 252.2,1185.7 251.1,1184.8 250.0,1183.9 248.9,1182.9 247.9,1181.9 246.9,1180.9 246.0,1179.8 245.0,1178.7 244.2,1177.6 243.4,1176.4 242.6,1175.2 241.9,1174.0 241.2,1172.8 240.6,1171.5 240.0,1170.1 239.5,1168.8 239.0,1167.4 238.6,1166.0 238.2,1164.6 237.9,1163.2 237.6,1161.7 237.3,1160.2 237.2,1158.7 237.0,1157.2 236.9,1155.7 236.9,1154.2 236.9,1152.6 236.9,1151.1 237.0,1149.5 237.1,1148.0 237.3,1146.4 237.5,1144.9 237.8,1143.3 238.0,1141.8 238.4,1140.2 238.8,1138.7 239.2,1137.2 239.6,1135.7 240.1,1134.2 240.7,1132.7 241.2,1131.3 241.8,1129.8 242.5,1128.4 243.2,1127.0 243.9,1125.7 244.6,1124.3 245.4,1123.0 246.2,1121.7 247.1,1120.5 248.0,1119.2 248.9,1118.1 249.9,1116.9 250.8,1115.8 251.9,1114.7 252.9,1113.6 254.0,1112.6 255.1,1111.6 256.2,1110.6 257.3,1109.6 258.5,1108.7 259.7,1107.8 260.9,1106.9 262.2,1106.1 263.4,1105.3 264.7,1104.5 266.0,1103.8 267.3,1103.1 268.7,1102.4 270.0,1101.7 271.4,1101.1 272.8,1100.5 274.2,1099.9 275.6,1099.4 277.0,1098.9 278.5,1098.4 279.9,1097.9 281.4,1097.5 282.9,1097.1 284.4,1096.7 285.9,1096.4 287.4,1096.0 288.9,1095.7 290.4,1095.5 291.9,1095.2 293.4,1095.0 295.0,1094.9Z" fill="none" stroke="rgb(255,64,0)" stroke-width="3.9" stroke-linejoin="round"/>
<path d="M295.2,1115.0 296.3,1115.0 297.4,1115.0 298.5,1115.0 299.6,1115.1 300.7,1115.1 301.8,1115.2 302.9,1115.4 304.0,1115.5 305.0,1115.7 306.1,1115.9 307.1,1116.1 308.2,1116.4 309.2,1116.7 310.3,1117.0 311.3,1117.3 312.3,1117.6 313.3,1118.0 314.3,1118.4 315.3,1118.9 316.2,1119.3 317.2,1119.8 318.1,1120.3 319.0,1120.8 319.9,1121.4 320.8,1122.0 321.7,1122.6 322.5,1123.2 323.4,1123.8 324.2,1124.5 325.0,1125.2 325.8,1125.9 326.5,1126.7 327.3,1127.4 328.0,1128.2 328.7,1129.0 329.4,1129.9 330.0,1130.7 330.6,1131.6 331.2,1132.5 331.8,1133.4 332.4,1134.3 332.9,1135.3 333.4,1136.2 333.9,1137.2 334.3,1138.2 334.7,1139.2 335.1,1140.2 335.5,1141.2 335.8,1142.2 336.1,1143.2 336.4,1144.3 336.6,1145.3 336.8,1146.3 337.0,1147.4 337.1,1148.4 337.2,1149.4 337.3,1150.4 337.3,1151.5 337.3,1152.5 337.3,1153.5 337.2,1154.5 337.1,1155.5 337.0,1156.5 336.8,1157.5 336.6,1158.4 336.3,1159.4 336.1,1160.3 335.8,1161.3 335.4,1162.2 335.0,1163.1 334.6,1164.0 334.2,1164.9 333.7,1165.8 333.2,1166.7 332.7,1167.5 332.1,1168.4 331.5,1169.2 330.9,1170.0 330.3,1170.8 329.6,1171.6 329.0,1172.4 328.3,1173.1 327.5,1173.9 326.8,1174.6 326.0,1175.3 325.2,1176.1 324.4,1176.7 323.6,1177.4 322.7,1178.1 321.8,1178.7 321.0,1179.4 320.1,1180.0 319.1,1180.6 318.2,1181.2 317.3,1181.7 316.3,1182.3 315.3,1182.8 314.4,1183.3 313.4,1183.8 312.4,1184.3 311.3,1184.8 310.3,1185.2 309.3,1185.7 308.2,1186.1 307.2,1186.5 306.1,1186.8 305.1,1187.2 304.0,1187.5 302.9,1187.8 301.8,1188.1 300.8,1188.4 299.7,1188.7 298.6,1188.9 297.5,1189.1 296.4,1189.3 295.3,1189.5 294.2,1189.6 293.1,1189.7 292.1,1189.8 291.0,1189.9 289.9,1190.0 288.8,1190.0 287.7,1190.0 286.6,1190.0 285.6,1189.9 284.5,1189.8 283.4,1189.7 282.4,1189.6 281.3,1189.4 280.3,1189.3 279.2,1189.0 278.2,1188.8 277.2,1188.5 276.1,1188.2 275.1,1187.9 274.1,1187.5 273.1,1187.1 272.2,1186.7 271.2,1186.3 270.2,1185.8 269.3,1185.3 268.4,1184.7 267.5,1184.2 266.6,1183.6 265.7,1183.0 264.8,1182.3 264.0,1181.6 263.1,1180.9 262.3,1180.2 261.5,1179.5 260.7,1178.7 260.0,1177.9 259.2,1177.1 258.5,1176.3 257.8,1175.5 257.2,1174.6 256.5,1173.8 255.9,1172.9 255.3,1172.0 254.7,1171.1 254.2,1170.1 253.6,1169.2 253.1,1168.3 252.7,1167.3 252.2,1166.4 251.8,1165.4 251.5,1164.4 251.1,1163.4 250.8,1162.5 250.5,1161.5 250.3,1160.5 250.0,1159.5 249.8,1158.5 249.7,1157.5 249.6,1156.5 249.5,1155.5 249.5,1154.5 249.5,1153.5 249.5,1152.6 249.6,1151.6 249.7,1150.6 249.8,1149.7 250.0,1148.7 250.2,1147.7 250.4,1146.8 250.7,1145.8 251.0,1144.9 251.3,1144.0 251.7,1143.1 252.1,1142.1 252.5,1141.2 253.0,1140.3 253.5,1139.5 254.0,1138.6 254.5,1137.7 255.1,1136.9 255.7,1136.0 256.3,1135.2 256.9,1134.4 257.6,1133.5 258.2,1132.7 259.0,1132.0 259.7,1131.2 260.4,1130.4 261.2,1129.7 262.0,1128.9 262.8,1128.2 263.6,1127.5 264.5,1126.8 265.3,1126.2 266.2,1125.5 267.1,1124.9 268.0,1124.2 269.0,1123.6 269.9,1123.0 270.9,1122.5 271.8,1121.9 272.8,1121.4 273.8,1120.8 274.8,1120.3 275.8,1119.9 276.9,1119.4 277.9,1119.0 278.9,1118.6 280.0,1118.2 281.0,1117.8 282.1,1117.4 283.2,1117.1 284.3,1116.8 285.3,1116.5 286.4,1116.3 287.5,1116.0 288.6,1115.8 289.7,1115.6 290.8,1115.4 291.9,1115.3 293.0,1115.2 294.1,1115.1 295.2,1115.0Z" fill="none" stroke="rgb(223,0,0)" stroke-width="3.9" stroke-linejoin="round"/>
<ellipse cx="290.6" cy="1157.3" rx="16.1" ry="13.6" transform="rotate(-5 290.6 1157.3)" fill="none" stroke="rgb(128,0,0)" stroke-width="3.9"/>
<path d="M125.5,882.0L125.5,836.2M129.6,851.3L125.5,836.2L121.4,851.3M138.8,882.0L141.0,836.2M144.4,851.5L141.0,836.2L136.2,851.1M175.4,882.0L184.3,837.3M185.3,852.8L184.3,837.3L177.4,851.3M233.2,882.0L251.7,840.0M249.3,855.5L251.7,840.0L241.9,852.2M305.0,882.0L335.0,847.3M328.2,861.4L335.0,847.3L322.0,856.1M385.7,882.0L425.0,858.4M414.1,869.7L425.0,858.4L409.9,862.7M466.3,881.7L510.6,870.1M497.0,877.9L510.6,870.1L494.9,870.0M539.5,881.7L584.4,878.0M569.9,883.2L584.4,878.0L569.3,875.2M597.3,881.7L643.5,881.7M628.3,885.8L643.5,881.7L628.3,877.6M635.0,881.7L680.0,882.0M665.1,885.9L680.0,882.0L665.2,877.9M125.5,1026.5L125.5,980.9M129.6,995.9L125.5,980.9L121.4,995.9M138.8,1026.5L140.6,980.9M144.1,996.1L140.6,980.9L135.9,995.8M175.4,1026.5L184.3,982.0M185.3,997.5L184.3,982.0L177.4,995.9M233.2,1026.5L252.6,985.8M249.8,1001.0L252.6,985.8L242.6,997.5M305.0,1026.4L340.6,997.1M331.5,1009.9L340.6,997.1L326.2,1003.6M386.1,1026.4L431.0,1020.2M416.7,1026.2L431.0,1020.2L415.6,1018.2M466.3,1026.5L507.5,1045.6M492.2,1043.0L507.5,1045.6L495.6,1035.6M539.5,1026.8L569.8,1060.3M556.8,1051.9L569.8,1060.3L562.8,1046.5M597.3,1026.8L623.5,1064.2M611.5,1054.2L623.5,1064.2L618.2,1049.5M635.0,1026.8L660.0,1045.0M650.1,1041.2L660.0,1045.0L653.4,1036.8M125.5,1141.4L125.5,1096.0M129.5,1111.0L125.5,1096.0L121.5,1111.0M138.8,1141.4L137.8,1096.0M142.2,1110.9L137.8,1096.0L134.1,1111.1M175.4,1141.4L173.6,1096.0M178.2,1110.8L173.6,1096.0L170.1,1111.1M233.2,1141.4L237.0,1096.5M239.7,1111.7L237.0,1096.5L231.7,1111.0M305.0,1141.4L325.0,1100.4M322.1,1115.7L325.0,1100.4L314.7,1112.1M385.7,1141.4L376.8,1186.0M375.8,1170.5L376.8,1186.0L383.7,1172.1M466.2,1141.4L442.5,1180.6M446.8,1165.6L442.5,1180.6L453.8,1169.8M539.5,1141.2L506.2,1172.5M514.4,1159.2L506.2,1172.5L520.0,1165.1M597.2,1141.2L555.5,1160.5M567.5,1150.4L555.5,1160.5L571.0,1157.8M635.3,1141.2L589.4,1146.4M604.1,1140.6L589.4,1146.4L605.0,1148.8M125.5,1215.4L125.5,1170.2M129.5,1185.1L125.5,1170.2L121.5,1185.1M138.8,1215.4L125.8,1170.4M134.1,1184.1L125.8,1170.4L126.1,1186.4M175.4,1215.4L146.8,1180.4M159.4,1189.4L146.8,1180.4L153.1,1194.5M233.2,1215.4L196.8,1188.4M211.2,1194.1L196.8,1188.4L206.4,1200.6M305.0,1215.4L260.0,1212.8M275.1,1209.6L260.0,1212.8L274.6,1217.7M385.8,1215.4L340.5,1221.7M354.9,1215.6L340.5,1221.7L356.0,1223.7M466.2,1215.4L421.8,1223.7M435.7,1217.0L421.8,1223.7L437.2,1224.9M539.4,1215.6L494.6,1222.3M508.8,1216.1L494.6,1222.3L510.0,1224.1M597.2,1215.6L552.0,1219.3M566.6,1214.1L552.0,1219.3L567.2,1222.1M635.2,1215.6L589.6,1216.5M604.6,1212.1L589.6,1216.5L604.7,1220.3M125.7,1241.4L113.2,1198.0M121.2,1211.2L113.2,1198.0L113.5,1213.4M175.4,1241.4L130.8,1241.4M145.5,1237.4L130.8,1241.4L145.5,1245.4M233.2,1241.4L187.8,1241.4M202.8,1237.4L187.8,1241.4L202.8,1245.4M305.0,1241.4L260.0,1241.4M274.9,1237.4L260.0,1241.4L274.9,1245.4M385.7,1241.4L340.6,1241.4M355.5,1237.4L340.6,1241.4L355.5,1245.4M466.2,1241.4L421.8,1241.4M436.5,1237.4L421.8,1241.4L436.5,1245.4M539.4,1241.2L493.6,1241.2M508.7,1237.1L493.6,1241.2L508.7,1245.3M597.2,1241.2L551.2,1241.2M566.4,1237.1L551.2,1241.2L566.4,1245.3M635.2,1241.2L589.6,1241.2M604.6,1237.1L589.6,1241.2L604.6,1245.3M125.5,721.2L125.5,675.2M129.6,690.4L125.5,675.2L121.4,690.4M138.8,721.2L140.4,675.2M144.0,690.5L140.4,675.2L135.8,690.3M175.4,721.2L183.4,675.9M184.8,691.6L183.4,675.9L176.7,690.1M233.2,721.2L251.9,679.2M249.5,694.7L251.9,679.2L242.0,691.4M305.0,721.2L334.6,686.0M328.0,700.2L334.6,686.0L321.7,695.0M385.7,721.2L420.9,691.6M411.9,704.5L420.9,691.6L406.7,698.2M466.3,721.2L506.1,698.2M495.0,709.3L506.1,698.2L490.9,702.2M539.5,721.2L583.5,707.8M570.2,716.1L583.5,707.8L567.8,708.3M597.3,721.2L642.9,714.8M628.4,721.0L642.9,714.8L627.2,712.9M635.0,721.2L680.9,718.8M666.0,723.7L680.9,718.8L665.6,715.5" fill="none" stroke="#000" stroke-width="1.1" stroke-linejoin="miter"/>
</g>
<path d="M125.5,1245.4V1239.4M125.5,718.5V724.5M230.3,1245.4V1239.4M230.3,718.5V724.5M335.0,1245.4V1239.4M335.0,718.5V724.5M439.8,1245.4V1239.4M439.8,718.5V724.5M544.5,1245.4V1239.4M544.5,718.5V724.5M649.3,1245.4V1239.4M649.3,718.5V724.5M121.5,1241.5H127.5M648.9,1241.5H642.9M121.5,1136.9H127.5M648.9,1136.9H642.9M121.5,1032.3H127.5M648.9,1032.3H642.9M121.5,927.7H127.5M648.9,927.7H642.9M121.5,823.1H127.5M648.9,823.1H642.9M121.5,718.5H127.5M648.9,718.5H642.9" stroke="#262626" stroke-width="1" fill="none"/>
<rect x="121.5" y="718.5" width="527.4" height="526.9" fill="none" stroke="#262626" stroke-width="1"/>
<linearGradient id="ga" x1="0" y1="1" x2="0" y2="0">
<stop offset="0.0000" stop-color="rgb(0,0,143)"/>
<stop offset="0.1111" stop-color="rgb(0,0,255)"/>
<stop offset="0.3651" stop-color="rgb(0,255,255)"/>
<stop offset="0.6190" stop-color="rgb(255,255,0)"/>
<stop offset="0.8730" stop-color="rgb(255,0,0)"/>
<stop offset="1.0000" stop-color="rgb(143,0,0)"/>
</linearGradient>
<rect x="690.5" y="37.5" width="31.0" height="547.9" fill="url(#ga)" stroke="#262626" stroke-width="1"/>
<path d="M721.5,585.4H715.0M721.5,494.1H715.0M721.5,402.8H715.0M721.5,311.4H715.0M721.5,220.1H715.0M721.5,128.8H715.0M721.5,37.5H715.0" stroke="#262626" stroke-width="1"/>
<text x="729.5" y="594.4" font-size="25.0">0</text>
<text x="729.5" y="503.1" font-size="25.0">1</text>
<text x="729.5" y="411.8" font-size="25.0">2</text>
<text x="729.5" y="320.4" font-size="25.0">3</text>
<text x="729.5" y="229.1" font-size="25.0">4</text>
<text x="729.5" y="137.8" font-size="25.0">5</text>
<text x="729.5" y="46.5" font-size="25.0">6</text>
<linearGradient id="gb" x1="0" y1="1" x2="0" y2="0">
<stop offset="0.0000" stop-color="rgb(0,0,143)"/>
<stop offset="0.1111" stop-color="rgb(0,0,255)"/>
<stop offset="0.3651" stop-color="rgb(0,255,255)"/>
<stop offset="0.6190" stop-color="rgb(255,255,0)"/>
<stop offset="0.8730" stop-color="rgb(255,0,0)"/>
<stop offset="1.0000" stop-color="rgb(143,0,0)"/>
</linearGradient>
<rect x="663.5" y="718.5" width="30.0" height="526.9" fill="url(#gb)" stroke="#262626" stroke-width="1"/>
<path d="M693.5,1245.4H687.0M693.5,1192.7H687.0M693.5,1140.0H687.0M693.5,1087.3H687.0M693.5,1034.6H687.0M693.5,982.0H687.0M693.5,929.3H687.0M693.5,876.6H687.0M693.5,823.9H687.0M693.5,771.2H687.0M693.5,718.5H687.0" stroke="#262626" stroke-width="1"/>
<text x="702.5" y="1253.7" font-size="23.0">1</text>
<text x="702.5" y="1201.0" font-size="23.0">2</text>
<text x="702.5" y="1148.3" font-size="23.0">3</text>
<text x="702.5" y="1095.6" font-size="23.0">4</text>
<text x="702.5" y="1042.9" font-size="23.0">5</text>
<text x="702.5" y="990.2" font-size="23.0">6</text>
<text x="702.5" y="937.6" font-size="23.0">7</text>
<text x="702.5" y="884.9" font-size="23.0">8</text>
<text x="702.5" y="832.2" font-size="23.0">9</text>
<text x="702.5" y="779.5" font-size="23.0">10</text>
<text x="702.5" y="726.8" font-size="23.0">11</text>
<text x="122.77" y="621.60" font-size="29.70">0</text>
<text x="231.22" y="621.60" font-size="29.70">1</text>
<text x="340.66" y="621.60" font-size="29.70">2</text>
<text x="449.22" y="621.60" font-size="29.70">3</text>
<text x="558.16" y="621.60" font-size="29.70">4</text>
<text x="666.79" y="621.60" font-size="29.70">5</text>
<text x="102.65" y="593.30" font-size="29.70">0</text>
<text x="102.65" y="484.30" font-size="29.70">1</text>
<text x="102.65" y="375.30" font-size="29.70">2</text>
<text x="102.65" y="266.30" font-size="29.70">3</text>
<text x="102.65" y="157.30" font-size="29.70">4</text>
<text x="102.65" y="48.30" font-size="29.70">5</text>
<text x="118.28" y="1279.80" font-size="28.50">0</text>
<text x="222.64" y="1279.80" font-size="28.50">1</text>
<text x="327.96" y="1279.80" font-size="28.50">2</text>
<text x="432.43" y="1279.80" font-size="28.50">3</text>
<text x="537.26" y="1279.80" font-size="28.50">4</text>
<text x="641.80" y="1279.80" font-size="28.50">5</text>
<text x="97.65" y="1250.90" font-size="28.50">0</text>
<text x="97.65" y="1146.30" font-size="28.50">1</text>
<text x="97.65" y="1041.70" font-size="28.50">2</text>
<text x="97.65" y="937.10" font-size="28.50">3</text>
<text x="97.65" y="832.50" font-size="28.50">4</text>
<text x="97.65" y="727.90" font-size="28.50">5</text>
<text x="730.20" y="593.90" font-size="24">0</text>
<text x="730.20" y="502.58" font-size="24">1</text>
<text x="730.20" y="411.26" font-size="24">2</text>
<text x="730.20" y="319.94" font-size="24">3</text>
<text x="730.20" y="228.62" font-size="24">4</text>
<text x="730.20" y="137.30" font-size="24">5</text>
<text x="730.20" y="45.98" font-size="24">6</text>
<text x="702.50" y="1253.30" font-size="21.7">1</text>
<text x="702.50" y="1200.61" font-size="21.7">2</text>
<text x="702.50" y="1147.92" font-size="21.7">3</text>
<text x="702.50" y="1095.23" font-size="21.7">4</text>
<text x="702.50" y="1042.54" font-size="21.7">5</text>
<text x="702.50" y="989.85" font-size="21.7">6</text>
<text x="702.50" y="937.16" font-size="21.7">7</text>
<text x="702.50" y="884.47" font-size="21.7">8</text>
<text x="702.50" y="831.78" font-size="21.7">9</text>
<text x="702.50" y="779.09" font-size="21.7">10</text>
<text x="702.50" y="726.40" font-size="21.7">11</text>
<text x="722.96" y="28.85" font-size="28.30">×</text>
<text x="742.73" y="26.10" font-size="27.00" textLength="24.71" lengthAdjust="spacingAndGlyphs">10</text>
<text x="767.73" y="14.10" font-size="18.00">-4</text>
<text x="694.62" y="710.00" font-size="27.50">×</text>
<text x="713.44" y="707.00" font-size="26.00" textLength="23.45" lengthAdjust="spacingAndGlyphs">10</text>
<text x="737.04" y="695.90" font-size="17.80">-4</text>
<g transform="translate(64,295.3) scale(0.033206)"><path d="M245,262 C252,195 305,133 368,133 C432,133 470,208 528,214" fill="none" stroke="#262626" stroke-width="50" stroke-linecap="round"/><path d="M640,125 Q420,330 138,652" fill="none" stroke="#262626" stroke-width="38" stroke-linecap="round"/><path d="M252,528 C312,536 352,632 425,636 C505,640 570,580 596,468" fill="none" stroke="#262626" stroke-width="54" stroke-linecap="round"/></g>
<g transform="translate(492,620) scale(0.030651)"><path d="M142,328 C150,240 200,145 260,145 C310,145 338,182 330,232" fill="none" stroke="#262626" stroke-width="44" stroke-linecap="round"/><path d="M336,192 L232,682" fill="none" stroke="#262626" stroke-width="70" stroke-linecap="round"/><path d="M352,282 C402,200 470,147 545,147 C598,147 628,172 628,205" fill="none" stroke="#262626" stroke-width="40" stroke-linecap="round"/><circle cx="586" cy="234" r="52" fill="#262626"/></g>
<g transform="translate(67.9,968.3) scale(0.955,0.99) translate(-68.3,-299.3)"><g transform="translate(64,295.3) scale(0.033206)"><path d="M245,262 C252,195 305,133 368,133 C432,133 470,208 528,214" fill="none" stroke="#262626" stroke-width="50" stroke-linecap="round"/><path d="M640,125 Q420,330 138,652" fill="none" stroke="#262626" stroke-width="38" stroke-linecap="round"/><path d="M252,528 C312,536 352,632 425,636 C505,640 570,580 596,468" fill="none" stroke="#262626" stroke-width="54" stroke-linecap="round"/></g></g>
<g transform="translate(475.9,1278) scale(0.955) translate(-495.9,-623.8)"><g transform="translate(492,620) scale(0.030651)"><path d="M142,328 C150,240 200,145 260,145 C310,145 338,182 330,232" fill="none" stroke="#262626" stroke-width="44" stroke-linecap="round"/><path d="M336,192 L232,682" fill="none" stroke="#262626" stroke-width="70" stroke-linecap="round"/><path d="M352,282 C402,200 470,147 545,147 C598,147 628,172 628,205" fill="none" stroke="#262626" stroke-width="40" stroke-linecap="round"/><circle cx="586" cy="234" r="52" fill="#262626"/></g></g>
<text x="285.04" y="21.30" font-size="27.80" font-style="italic" textLength="10.24" lengthAdjust="spacingAndGlyphs" style="fill:#000">ϵ</text>
<text x="298.02" y="25.20" font-size="19.00" font-style="italic" textLength="13.60" lengthAdjust="spacingAndGlyphs" style="fill:#000">F</text>
<path d="M325.2,10.5H344.9M325.2,16.4H344.9" stroke="#000" stroke-width="1.5"/>
<text x="354.63" y="21.30" font-size="31.60" textLength="53.77" lengthAdjust="spacingAndGlyphs" style="fill:#000">0.03</text>
<text x="419.51" y="21.40" font-size="30.70" style="fill:#000">;</text>
<text x="436.91" y="20.40" font-size="28.00" font-style="italic" textLength="9.41" lengthAdjust="spacingAndGlyphs" style="fill:#000">t</text>
<path d="M458.1,10.5H478.3M458.1,16.4H478.3" stroke="#000" stroke-width="1.5"/>
<text x="488.83" y="21.30" font-size="31.60" textLength="28.87" lengthAdjust="spacingAndGlyphs" style="fill:#000">20</text>
<text x="273.60" y="702.40" font-size="26.80" font-style="italic" textLength="9.44" lengthAdjust="spacingAndGlyphs" style="fill:#000">ϵ</text>
<text x="286.81" y="706.50" font-size="18.30" font-style="italic" textLength="12.72" lengthAdjust="spacingAndGlyphs" style="fill:#000">F</text>
<path d="M312.1,691.6H331.3M312.1,698.2H331.3" stroke="#000" stroke-width="1.4"/>
<text x="341.20" y="702.90" font-size="31.20" textLength="50.63" lengthAdjust="spacingAndGlyphs" style="fill:#000">0.03</text>
<text x="402.17" y="702.80" font-size="29.50" style="fill:#000">;</text>
<text x="418.81" y="702.10" font-size="27.00" font-style="italic" textLength="9.41" lengthAdjust="spacingAndGlyphs" style="fill:#000">t</text>
<path d="M439.4,691.6H459.0M439.4,698.2H459.0" stroke="#000" stroke-width="1.4"/>
<text x="468.44" y="702.90" font-size="31.20" textLength="28.55" lengthAdjust="spacingAndGlyphs" style="fill:#000">50</text>
<text x="-0.50" y="633.30" font-size="41.50" textLength="47.89" lengthAdjust="spacingAndGlyphs" style="fill:#000">(a)</text>
<text x="-1.66" y="1290.50" font-size="41.50" textLength="49.43" lengthAdjust="spacingAndGlyphs" style="fill:#000">(b)</text>
</svg></body></html>
